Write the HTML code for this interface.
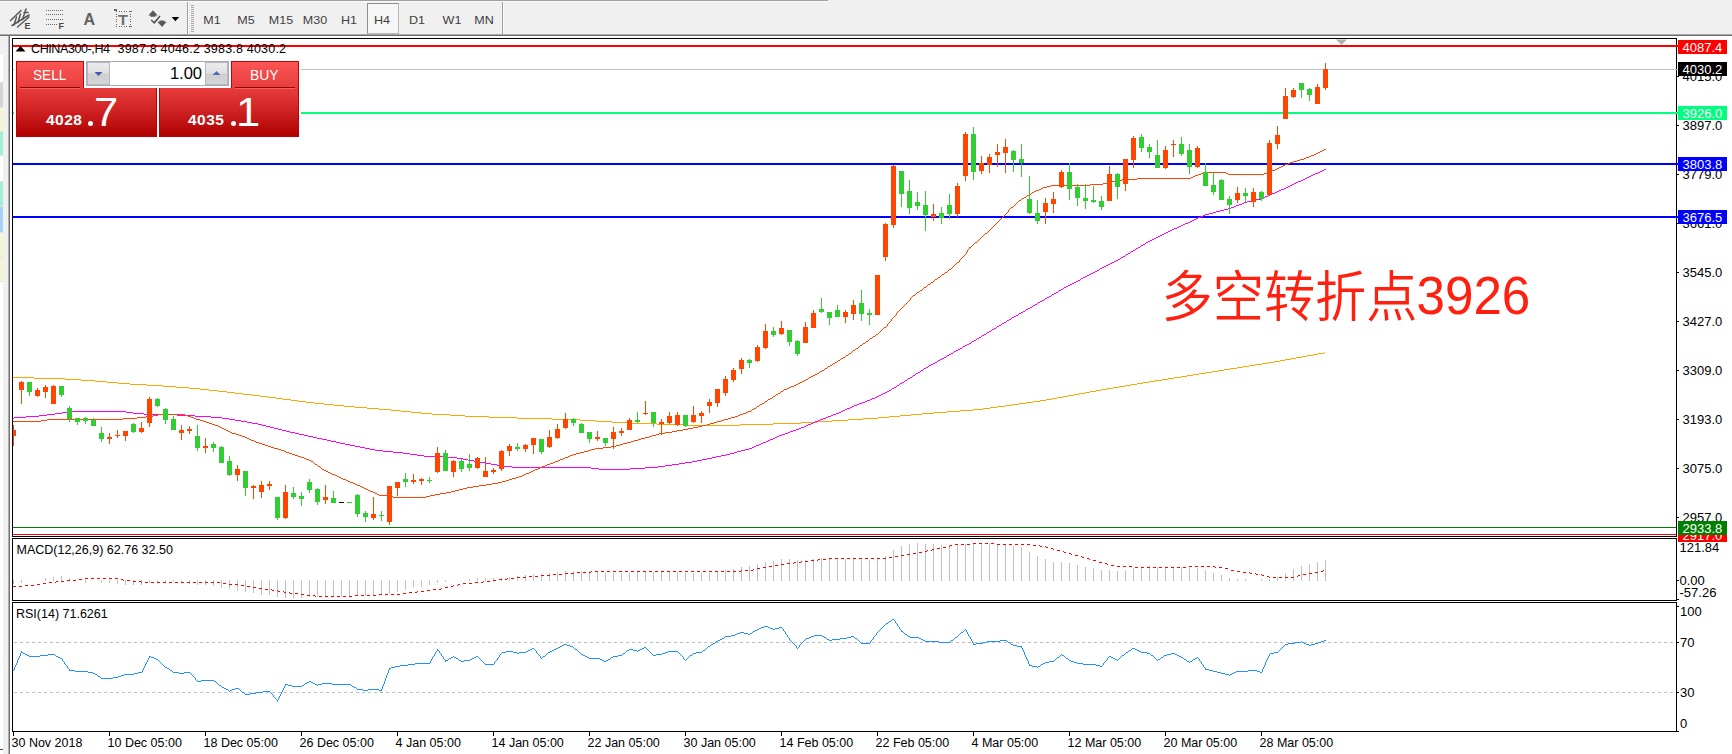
<!DOCTYPE html>
<html><head><meta charset="utf-8"><title>CHINA300-,H4</title>
<style>
html,body{margin:0;padding:0;background:#fff;}
body{width:1732px;height:754px;overflow:hidden;position:relative;font-family:"Liberation Sans","Noto Sans CJK SC",sans-serif;}
#root{position:absolute;left:0;top:0;width:1732px;height:754px;overflow:hidden;background:#fff;}
.t{position:absolute;white-space:pre;font-size:13px;line-height:14px;color:#000;}
.ax{position:absolute;left:1682.5px;white-space:pre;font-size:13px;line-height:14px;color:#000;}
.lab{position:absolute;left:1678px;width:49px;height:14px;white-space:pre;font-size:13px;line-height:16px;color:#fff;text-indent:4.5px;overflow:hidden;}
.tf{position:absolute;top:12px;font-size:12px;line-height:14px;color:#404040;white-space:pre;}
.tfc{position:absolute;top:12.5px;width:40px;text-align:center;font-size:10.9px;line-height:14px;color:#404040;white-space:pre;transform:scaleX(1.15);}
svg{position:absolute;left:0;top:0;}
</style></head><body><div id="root">

<div style="position:absolute;left:0;top:0;width:1732px;height:36px;background:#f0f0f0"></div>
<div style="position:absolute;left:0;top:0;width:828px;height:1px;background:#a0a0a0"></div>
<div style="position:absolute;left:0;top:1px;width:828px;height:1px;background:#fcfcfc"></div>
<div style="position:absolute;left:0;top:34px;width:1732px;height:1px;background:#a8a8a8"></div>
<div style="position:absolute;left:0;top:35px;width:1732px;height:1px;background:#6e6e6e"></div>
<div style="position:absolute;left:0;top:36px;width:10px;height:718px;background:#f0f0f0"></div>
<div style="position:absolute;left:0;top:55px;width:3px;height:699px;background:#fff"></div>
<div style="position:absolute;left:0;top:83px;width:3px;height:25px;background:#d4d4d4"></div>
<div style="position:absolute;left:0;top:108px;width:3px;height:24px;background:#f6f5d2"></div>
<div style="position:absolute;left:0;top:132px;width:3px;height:24px;background:#a2f0d4"></div>
<div style="position:absolute;left:0;top:182px;width:3px;height:25px;background:#a2f0d4"></div>
<div style="position:absolute;left:0;top:207px;width:3px;height:26px;background:#a4d2f8"></div>
<div style="position:absolute;left:0;top:233px;width:3px;height:48px;background:#f6f5d2"></div>
<div style="position:absolute;left:0;top:82px;width:3px;height:1px;background:#e0e0e0"></div>
<div style="position:absolute;left:0;top:107px;width:3px;height:1px;background:#e0e0e0"></div>
<div style="position:absolute;left:0;top:131px;width:3px;height:1px;background:#e0e0e0"></div>
<div style="position:absolute;left:0;top:155px;width:3px;height:1px;background:#e0e0e0"></div>
<div style="position:absolute;left:0;top:181px;width:3px;height:1px;background:#e0e0e0"></div>
<div style="position:absolute;left:0;top:206px;width:3px;height:1px;background:#e0e0e0"></div>
<div style="position:absolute;left:0;top:232px;width:3px;height:1px;background:#e0e0e0"></div>
<div style="position:absolute;left:0;top:257px;width:3px;height:1px;background:#e0e0e0"></div>
<div style="position:absolute;left:0;top:281px;width:3px;height:1px;background:#e0e0e0"></div>
<div style="position:absolute;left:0;top:749px;width:3px;height:1px;background:#505050"></div>
<div style="position:absolute;left:8px;top:36px;width:1px;height:718px;background:#b0b0b0"></div>
<div style="position:absolute;left:9px;top:35px;width:1px;height:719px;background:#707070"></div>
<div style="position:absolute;left:367px;top:3px;width:30px;height:29px;border:1px solid #b8b8b8;border-top-color:#909090;border-left-color:#909090;background:#f6f6f6;box-sizing:content-box"></div>
<div class="tfc" style="left:191.8px">M1</div>
<div class="tfc" style="left:226px">M5</div>
<div class="tfc" style="left:260.5px">M15</div>
<div class="tfc" style="left:294.5px">M30</div>
<div class="tfc" style="left:328.5px">H1</div>
<div class="tfc" style="left:362px">H4</div>
<div class="tfc" style="left:396.5px">D1</div>
<div class="tfc" style="left:432px">W1</div>
<div class="tfc" style="left:464px">MN</div>
<div class="tf" style="left:83.5px;top:11px;font-size:16px;line-height:18px;font-weight:bold;color:#606060">A</div>
<div class="tf" style="left:118.300px;top:10.5px;font-size:14.5px;line-height:18px;font-weight:bold;color:#707070;transform-origin:0 0;transform:scaleX(1.12)">T</div>
<div class="tf" style="left:24.5px;top:21px;font-size:9px;line-height:10px;font-weight:bold;color:#484848">E</div>
<div class="tf" style="left:58.5px;top:21px;font-size:9px;line-height:10px;font-weight:bold;color:#484848">F</div>
<svg width="1732" height="754" viewBox="0 0 1732 754">
<g stroke="#585858" stroke-width="1.5" fill="none" stroke-linecap="round">
<path d="M10.5 20.5 L21 10.5 M12 25.5 L29 15 M17.5 27 L29 17"/>
<path d="M14 25 L16.5 17 M18 22.5 L20.5 14 M22.5 19.5 L26 9 M24 12.5 L28 12.5"/>
</g>
<g shape-rendering="crispEdges" fill="#686868">
<rect x="46" y="10" width="1" height="1"/>
<rect x="48" y="10" width="1" height="1"/>
<rect x="50" y="10" width="1" height="1"/>
<rect x="52" y="10" width="1" height="1"/>
<rect x="54" y="10" width="1" height="1"/>
<rect x="56" y="10" width="1" height="1"/>
<rect x="58" y="10" width="1" height="1"/>
<rect x="60" y="10" width="1" height="1"/>
<rect x="62" y="10" width="1" height="1"/>
<rect x="46" y="14" width="1" height="1"/>
<rect x="48" y="14" width="1" height="1"/>
<rect x="50" y="14" width="1" height="1"/>
<rect x="52" y="14" width="1" height="1"/>
<rect x="54" y="14" width="1" height="1"/>
<rect x="56" y="14" width="1" height="1"/>
<rect x="58" y="14" width="1" height="1"/>
<rect x="60" y="14" width="1" height="1"/>
<rect x="62" y="14" width="1" height="1"/>
<rect x="46" y="19" width="1" height="1"/>
<rect x="48" y="19" width="1" height="1"/>
<rect x="50" y="19" width="1" height="1"/>
<rect x="52" y="19" width="1" height="1"/>
<rect x="54" y="19" width="1" height="1"/>
<rect x="56" y="19" width="1" height="1"/>
<rect x="58" y="19" width="1" height="1"/>
<rect x="60" y="19" width="1" height="1"/>
<rect x="62" y="19" width="1" height="1"/>
<rect x="46" y="24" width="1" height="1"/>
<rect x="48" y="24" width="1" height="1"/>
<rect x="50" y="24" width="1" height="1"/>
<rect x="52" y="24" width="1" height="1"/>
<rect x="54" y="24" width="1" height="1"/>
<rect x="56" y="24" width="1" height="1"/>
</g>
<g shape-rendering="crispEdges" fill="#686868">
<rect x="116.0" y="11" width="1" height="1"/><rect x="116.0" y="26" width="1" height="1"/>
<rect x="118.5" y="11" width="1" height="1"/><rect x="118.5" y="26" width="1" height="1"/>
<rect x="121.0" y="11" width="1" height="1"/><rect x="121.0" y="26" width="1" height="1"/>
<rect x="123.5" y="11" width="1" height="1"/><rect x="123.5" y="26" width="1" height="1"/>
<rect x="126.0" y="11" width="1" height="1"/><rect x="126.0" y="26" width="1" height="1"/>
<rect x="128.5" y="11" width="1" height="1"/><rect x="128.5" y="26" width="1" height="1"/>
<rect x="131.0" y="11" width="1" height="1"/><rect x="131.0" y="26" width="1" height="1"/>
<rect x="116" y="13.5" width="1" height="1"/><rect x="130" y="13.5" width="1" height="1"/>
<rect x="116" y="16.0" width="1" height="1"/><rect x="130" y="16.0" width="1" height="1"/>
<rect x="116" y="18.5" width="1" height="1"/><rect x="130" y="18.5" width="1" height="1"/>
<rect x="116" y="21.0" width="1" height="1"/><rect x="130" y="21.0" width="1" height="1"/>
<rect x="116" y="23.5" width="1" height="1"/><rect x="130" y="23.5" width="1" height="1"/>
<rect x="130" y="11" width="1" height="1"/><rect x="130" y="26" width="1" height="1"/>
<rect x="114" y="9" width="3" height="2"/>
</g>
<g fill="#585858"><path d="M153 10.300 L157.700 15.5 L155.5 15.5 L155.5 16.700 L150.5 16.700 L150.5 15.5 L148.300 15.5Z"/><path d="M162 27 L166.700 21.800 L164.5 21.800 L164.5 20.600 L159.5 20.600 L159.5 21.800 L157.300 21.800Z"/></g>
<path d="M171.600 17H179.200L175.400 21.200Z" fill="#000"/>
<path d="M151.200 20 L154.300 22.800 L160 16" stroke="#505050" stroke-width="1.5" fill="none"/>
<g shape-rendering="crispEdges"><rect x="187" y="2" width="1" height="32" fill="#a0a0a0"/><rect x="188" y="2" width="1" height="32" fill="#fafafa"/><rect x="502" y="2" width="1" height="32" fill="#a0a0a0"/><rect x="503" y="2" width="1" height="32" fill="#fafafa"/>
<rect x="191" y="5" width="3" height="1" fill="#a8a8a8"/>
<rect x="191" y="7" width="3" height="1" fill="#a8a8a8"/>
<rect x="191" y="9" width="3" height="1" fill="#a8a8a8"/>
<rect x="191" y="11" width="3" height="1" fill="#a8a8a8"/>
<rect x="191" y="13" width="3" height="1" fill="#a8a8a8"/>
<rect x="191" y="15" width="3" height="1" fill="#a8a8a8"/>
<rect x="191" y="17" width="3" height="1" fill="#a8a8a8"/>
<rect x="191" y="19" width="3" height="1" fill="#a8a8a8"/>
<rect x="191" y="21" width="3" height="1" fill="#a8a8a8"/>
<rect x="191" y="23" width="3" height="1" fill="#a8a8a8"/>
<rect x="191" y="25" width="3" height="1" fill="#a8a8a8"/>
<rect x="191" y="27" width="3" height="1" fill="#a8a8a8"/>
<rect x="191" y="29" width="3" height="1" fill="#a8a8a8"/>
<rect x="191" y="31" width="3" height="1" fill="#a8a8a8"/>
</g>
<g shape-rendering="crispEdges">
<rect x="10" y="36" width="1722" height="718" fill="#fff"/>
<rect x="13" y="45" width="1664" height="2" fill="#ff0000"/>
<rect x="13" y="69" width="1664" height="1" fill="#c0c0c0"/>
<rect x="13" y="112" width="1664" height="2" fill="#00ff7f"/>
<rect x="13" y="163" width="1664" height="2" fill="#0000ff"/>
<rect x="13" y="216" width="1664" height="2" fill="#0000ff"/>
<rect x="13" y="527" width="1664" height="1" fill="#008000"/>
<rect x="13" y="534" width="1664" height="1" fill="#ff0000"/>
</g>
<path d="M1336 39.5 L1347 39.5 L1341.5 45Z" fill="#b0b0b0"/>
<path d="M1324 352h1v1h-1zM1318 353h6v1h-6zM1313 354h5v1h-5zM1307 355h6v1h-6zM1302 356h5v1h-5zM1296 357h6v1h-6zM1291 358h5v1h-5zM1285 359h6v1h-6zM1280 360h5v1h-5zM1274 361h6v1h-6zM1268 362h6v1h-6zM1262 363h6v1h-6zM1255 364h7v1h-7zM1249 365h6v1h-6zM1243 366h6v1h-6zM1237 367h6v1h-6zM1230 368h7v1h-7zM1224 369h6v1h-6zM1218 370h6v1h-6zM1212 371h6v1h-6zM1206 372h6v1h-6zM1199 373h7v1h-7zM1193 374h6v1h-6zM1187 375h6v1h-6zM1181 376h6v1h-6zM13 377h21v1h-21zM1174 377h7v1h-7zM34 378h31v1h-31zM1168 378h6v1h-6zM65 379h16v1h-16zM1162 379h6v1h-6zM81 380h14v1h-14zM1155 380h7v1h-7zM95 381h12v1h-12zM1149 381h6v1h-6zM107 382h11v1h-11zM1143 382h6v1h-6zM118 383h12v1h-12zM1137 383h6v1h-6zM130 384h17v1h-17zM1131 384h6v1h-6zM147 385h16v1h-16zM1125 385h6v1h-6zM163 386h13v1h-13zM1119 386h6v1h-6zM176 387h13v1h-13zM1113 387h6v1h-6zM189 388h11v1h-11zM1107 388h6v1h-6zM200 389h9v1h-9zM1101 389h6v1h-6zM209 390h9v1h-9zM1096 390h5v1h-5zM218 391h9v1h-9zM1090 391h6v1h-6zM227 392h8v1h-8zM1085 392h5v1h-5zM235 393h8v1h-8zM1079 393h6v1h-6zM243 394h9v1h-9zM1074 394h5v1h-5zM252 395h8v1h-8zM1068 395h6v1h-6zM260 396h8v1h-8zM1063 396h5v1h-5zM268 397h8v1h-8zM1057 397h6v1h-6zM276 398h7v1h-7zM1052 398h5v1h-5zM283 399h8v1h-8zM1046 399h6v1h-6zM291 400h7v1h-7zM1040 400h6v1h-6zM298 401h8v1h-8zM1033 401h7v1h-7zM306 402h8v1h-8zM1026 402h7v1h-7zM314 403h10v1h-10zM1019 403h7v1h-7zM324 404h10v1h-10zM1012 404h7v1h-7zM334 405h10v1h-10zM1005 405h7v1h-7zM344 406h11v1h-11zM997 406h8v1h-8zM355 407h12v1h-12zM990 407h7v1h-7zM367 408h12v1h-12zM983 408h7v1h-7zM379 409h12v1h-12zM973 409h10v1h-10zM391 410h10v1h-10zM960 410h13v1h-13zM401 411h10v1h-10zM947 411h13v1h-13zM411 412h10v1h-10zM934 412h13v1h-13zM421 413h11v1h-11zM922 413h12v1h-12zM432 414h18v1h-18zM911 414h11v1h-11zM450 415h15v1h-15zM900 415h11v1h-11zM465 416h24v1h-24zM889 416h11v1h-11zM489 417h28v1h-28zM878 417h11v1h-11zM517 418h35v1h-35zM863 418h15v1h-15zM552 419h28v1h-28zM848 419h15v1h-15zM580 420h16v1h-16zM832 420h16v1h-16zM596 421h16v1h-16zM817 421h15v1h-15zM612 422h17v1h-17zM801 422h16v1h-16zM629 423h28v1h-28zM773 423h28v1h-28zM657 424h29v1h-29zM740 424h33v1h-33zM686 425h54v1h-54z" fill="#ffa500" shape-rendering="crispEdges"/>
<path d="M1324 169h2v1h-2zM1322 170h2v1h-2zM1320 171h2v1h-2zM1318 172h2v1h-2zM1315 173h3v1h-3zM1313 174h2v1h-2zM1311 175h2v1h-2zM1309 176h2v1h-2zM1307 177h2v1h-2zM1305 178h2v1h-2zM1303 179h2v1h-2zM1301 180h2v1h-2zM1298 181h3v1h-3zM1296 182h2v1h-2zM1294 183h2v1h-2zM1292 184h2v1h-2zM1290 185h2v1h-2zM1288 186h2v1h-2zM1286 187h2v1h-2zM1284 188h2v1h-2zM1281 189h3v1h-3zM1279 190h2v1h-2zM1277 191h2v1h-2zM1275 192h2v1h-2zM1272 193h3v1h-3zM1270 194h2v1h-2zM1268 195h2v1h-2zM1265 196h3v1h-3zM1263 197h2v1h-2zM1261 198h2v1h-2zM1256 199h5v1h-5zM1252 200h4v1h-4zM1247 201h5v1h-5zM1244 202h3v1h-3zM1242 203h2v1h-2zM1239 204h3v1h-3zM1236 205h3v1h-3zM1234 206h2v1h-2zM1231 207h3v1h-3zM1228 208h3v1h-3zM1224 209h4v1h-4zM1220 210h4v1h-4zM1216 211h4v1h-4zM1213 212h3v1h-3zM1209 213h4v1h-4zM1205 214h4v1h-4zM1203 215h2v1h-2zM1201 216h2v1h-2zM1198 217h3v1h-3zM1196 218h2v1h-2zM1194 219h2v1h-2zM1192 220h2v1h-2zM1190 221h2v1h-2zM1188 222h2v1h-2zM1185 223h3v1h-3zM1183 224h2v1h-2zM1181 225h2v1h-2zM1179 226h2v1h-2zM1177 227h2v1h-2zM1174 228h3v1h-3zM1172 229h2v1h-2zM1170 230h2v1h-2zM1168 231h2v1h-2zM1166 232h2v1h-2zM1164 233h2v1h-2zM1162 234h2v1h-2zM1160 235h2v1h-2zM1158 236h2v1h-2zM1156 237h2v1h-2zM1154 238h2v1h-2zM1152 239h2v1h-2zM1150 240h2v1h-2zM1148 241h2v1h-2zM1146 242h2v1h-2zM1145 243h1v1h-1zM1143 244h2v1h-2zM1141 245h2v1h-2zM1140 246h1v1h-1zM1138 247h2v1h-2zM1136 248h2v1h-2zM1135 249h1v1h-1zM1133 250h2v1h-2zM1131 251h2v1h-2zM1130 252h1v1h-1zM1128 253h2v1h-2zM1126 254h2v1h-2zM1125 255h1v1h-1zM1123 256h2v1h-2zM1121 257h2v1h-2zM1120 258h1v1h-1zM1118 259h2v1h-2zM1116 260h2v1h-2zM1114 261h2v1h-2zM1112 262h2v1h-2zM1110 263h2v1h-2zM1108 264h2v1h-2zM1106 265h2v1h-2zM1104 266h2v1h-2zM1102 267h2v1h-2zM1100 268h2v1h-2zM1099 269h1v1h-1zM1097 270h2v1h-2zM1095 271h2v1h-2zM1093 272h2v1h-2zM1091 273h2v1h-2zM1089 274h2v1h-2zM1087 275h2v1h-2zM1085 276h2v1h-2zM1083 277h2v1h-2zM1081 278h2v1h-2zM1080 279h1v1h-1zM1078 280h2v1h-2zM1076 281h2v1h-2zM1074 282h2v1h-2zM1072 283h2v1h-2zM1070 284h2v1h-2zM1068 285h2v1h-2zM1066 286h2v1h-2zM1064 287h2v1h-2zM1063 288h1v1h-1zM1061 289h2v1h-2zM1059 290h2v1h-2zM1058 291h1v1h-1zM1056 292h2v1h-2zM1054 293h2v1h-2zM1052 294h2v1h-2zM1051 295h1v1h-1zM1049 296h2v1h-2zM1047 297h2v1h-2zM1045 298h2v1h-2zM1044 299h1v1h-1zM1042 300h2v1h-2zM1040 301h2v1h-2zM1038 302h2v1h-2zM1037 303h1v1h-1zM1035 304h2v1h-2zM1033 305h2v1h-2zM1032 306h1v1h-1zM1030 307h2v1h-2zM1028 308h2v1h-2zM1026 309h2v1h-2zM1025 310h1v1h-1zM1023 311h2v1h-2zM1021 312h2v1h-2zM1019 313h2v1h-2zM1018 314h1v1h-1zM1016 315h2v1h-2zM1014 316h2v1h-2zM1012 317h2v1h-2zM1011 318h1v1h-1zM1009 319h2v1h-2zM1007 320h2v1h-2zM1006 321h1v1h-1zM1004 322h2v1h-2zM1002 323h2v1h-2zM1001 324h1v1h-1zM999 325h2v1h-2zM997 326h2v1h-2zM996 327h1v1h-1zM994 328h2v1h-2zM992 329h2v1h-2zM991 330h1v1h-1zM989 331h2v1h-2zM987 332h2v1h-2zM986 333h1v1h-1zM984 334h2v1h-2zM982 335h2v1h-2zM981 336h1v1h-1zM979 337h2v1h-2zM977 338h2v1h-2zM976 339h1v1h-1zM974 340h2v1h-2zM972 341h2v1h-2zM971 342h1v1h-1zM969 343h2v1h-2zM967 344h2v1h-2zM965 345h2v1h-2zM963 346h2v1h-2zM962 347h1v1h-1zM960 348h2v1h-2zM958 349h2v1h-2zM956 350h2v1h-2zM954 351h2v1h-2zM953 352h1v1h-1zM951 353h2v1h-2zM949 354h2v1h-2zM947 355h2v1h-2zM946 356h1v1h-1zM944 357h2v1h-2zM942 358h2v1h-2zM940 359h2v1h-2zM938 360h2v1h-2zM937 361h1v1h-1zM935 362h2v1h-2zM933 363h2v1h-2zM931 364h2v1h-2zM929 365h2v1h-2zM928 366h1v1h-1zM926 367h2v1h-2zM924 368h2v1h-2zM923 369h1v1h-1zM921 370h2v1h-2zM920 371h1v1h-1zM918 372h2v1h-2zM916 373h2v1h-2zM915 374h1v1h-1zM913 375h2v1h-2zM912 376h1v1h-1zM910 377h2v1h-2zM908 378h2v1h-2zM907 379h1v1h-1zM905 380h2v1h-2zM904 381h1v1h-1zM902 382h2v1h-2zM900 383h2v1h-2zM899 384h1v1h-1zM897 385h2v1h-2zM896 386h1v1h-1zM894 387h2v1h-2zM892 388h2v1h-2zM891 389h1v1h-1zM889 390h2v1h-2zM887 391h2v1h-2zM885 392h2v1h-2zM883 393h2v1h-2zM881 394h2v1h-2zM879 395h2v1h-2zM877 396h2v1h-2zM875 397h2v1h-2zM872 398h3v1h-3zM870 399h2v1h-2zM867 400h3v1h-3zM865 401h2v1h-2zM862 402h3v1h-3zM859 403h3v1h-3zM857 404h2v1h-2zM854 405h3v1h-3zM852 406h2v1h-2zM850 407h2v1h-2zM847 408h3v1h-3zM845 409h2v1h-2zM843 410h2v1h-2zM70 411h56v1h-56zM841 411h2v1h-2zM62 412h8v1h-8zM126 412h7v1h-7zM839 412h2v1h-2zM55 413h7v1h-7zM133 413h11v1h-11zM836 413h3v1h-3zM47 414h8v1h-8zM144 414h33v1h-33zM833 414h3v1h-3zM39 415h8v1h-8zM177 415h18v1h-18zM831 415h2v1h-2zM26 416h13v1h-13zM195 416h16v1h-16zM828 416h3v1h-3zM14 417h12v1h-12zM211 417h11v1h-11zM826 417h2v1h-2zM13 418h1v1h-1zM222 418h7v1h-7zM823 418h3v1h-3zM229 419h6v1h-6zM820 419h3v1h-3zM235 420h6v1h-6zM818 420h2v1h-2zM241 421h6v1h-6zM815 421h3v1h-3zM247 422h5v1h-5zM813 422h2v1h-2zM252 423h6v1h-6zM811 423h2v1h-2zM258 424h4v1h-4zM808 424h3v1h-3zM262 425h4v1h-4zM806 425h2v1h-2zM266 426h4v1h-4zM804 426h2v1h-2zM270 427h4v1h-4zM801 427h3v1h-3zM274 428h4v1h-4zM799 428h2v1h-2zM278 429h4v1h-4zM796 429h3v1h-3zM282 430h4v1h-4zM793 430h3v1h-3zM286 431h4v1h-4zM790 431h3v1h-3zM290 432h5v1h-5zM788 432h2v1h-2zM295 433h4v1h-4zM785 433h3v1h-3zM299 434h5v1h-5zM782 434h3v1h-3zM304 435h4v1h-4zM779 435h3v1h-3zM308 436h5v1h-5zM777 436h2v1h-2zM313 437h4v1h-4zM775 437h2v1h-2zM317 438h5v1h-5zM773 438h2v1h-2zM322 439h5v1h-5zM770 439h3v1h-3zM327 440h4v1h-4zM768 440h2v1h-2zM331 441h5v1h-5zM766 441h2v1h-2zM336 442h4v1h-4zM763 442h3v1h-3zM340 443h5v1h-5zM761 443h2v1h-2zM345 444h5v1h-5zM759 444h2v1h-2zM350 445h5v1h-5zM756 445h3v1h-3zM355 446h5v1h-5zM754 446h2v1h-2zM360 447h5v1h-5zM752 447h2v1h-2zM365 448h5v1h-5zM749 448h3v1h-3zM370 449h5v1h-5zM745 449h4v1h-4zM375 450h8v1h-8zM741 450h4v1h-4zM383 451h10v1h-10zM737 451h4v1h-4zM393 452h10v1h-10zM734 452h3v1h-3zM403 453h7v1h-7zM730 453h4v1h-4zM410 454h7v1h-7zM726 454h4v1h-4zM417 455h7v1h-7zM721 455h5v1h-5zM424 456h21v1h-21zM716 456h5v1h-5zM445 457h12v1h-12zM712 457h4v1h-4zM457 458h6v1h-6zM707 458h5v1h-5zM463 459h5v1h-5zM702 459h5v1h-5zM468 460h6v1h-6zM697 460h5v1h-5zM474 461h6v1h-6zM692 461h5v1h-5zM480 462h6v1h-6zM685 462h7v1h-7zM486 463h5v1h-5zM679 463h6v1h-6zM491 464h6v1h-6zM672 464h7v1h-7zM497 465h6v1h-6zM665 465h7v1h-7zM503 466h9v1h-9zM658 466h7v1h-7zM512 467h79v1h-79zM645 467h13v1h-13zM591 468h8v1h-8zM630 468h15v1h-15zM599 469h31v1h-31z" fill="#ff00ff" shape-rendering="crispEdges"/>
<path d="M1324 149h2v1h-2zM1322 150h2v1h-2zM1320 151h2v1h-2zM1318 152h2v1h-2zM1316 153h2v1h-2zM1314 154h2v1h-2zM1311 155h3v1h-3zM1309 156h2v1h-2zM1306 157h3v1h-3zM1304 158h2v1h-2zM1300 159h4v1h-4zM1297 160h3v1h-3zM1293 161h4v1h-4zM1290 162h3v1h-3zM1288 163h2v1h-2zM1285 164h3v1h-3zM1283 165h2v1h-2zM1281 166h2v1h-2zM1279 167h2v1h-2zM1277 168h2v1h-2zM1275 169h2v1h-2zM1272 170h3v1h-3zM1269 171h3v1h-3zM1206 172h20v1h-20zM1267 172h2v1h-2zM1201 173h5v1h-5zM1226 173h2v1h-2zM1264 173h3v1h-3zM1198 174h3v1h-3zM1228 174h36v1h-36zM1195 175h3v1h-3zM1193 176h2v1h-2zM1191 177h2v1h-2zM1137 178h54v1h-54zM1122 179h15v1h-15zM1120 180h2v1h-2zM1112 181h8v1h-8zM1107 182h5v1h-5zM1103 183h4v1h-4zM1090 184h13v1h-13zM1051 185h39v1h-39zM1047 186h4v1h-4zM1043 187h4v1h-4zM1041 188h2v1h-2zM1039 189h2v1h-2zM1036 190h3v1h-3zM1034 191h2v1h-2zM1032 192h2v1h-2zM1031 193h1v1h-1zM1029 194h2v1h-2zM1027 195h2v1h-2zM1026 196h1v1h-1zM1024 197h2v1h-2zM1022 198h2v1h-2zM1021 199h1v1h-1zM1019 200h2v1h-2zM1018 201h1v1h-1zM1017 202h1v1h-1zM1016 203h1v1h-1zM1015 204h1v1h-1zM1014 205h1v1h-1zM1013 206h1v1h-1zM1011 207h2v1h-2zM1010 208h1v1h-1zM1009 209h1v1h-1zM1008 210h1v1h-1zM1008 211h1v1h-1zM1007 212h1v1h-1zM1006 213h1v1h-1zM1005 214h1v1h-1zM1004 215h1v1h-1zM1003 216h1v1h-1zM1002 217h1v1h-1zM1001 218h1v1h-1zM1000 219h1v1h-1zM999 220h1v1h-1zM998 221h1v1h-1zM997 222h1v1h-1zM996 223h1v1h-1zM995 224h1v1h-1zM994 225h1v1h-1zM993 226h1v1h-1zM992 227h1v1h-1zM991 228h1v1h-1zM990 229h1v1h-1zM989 230h1v1h-1zM988 231h1v1h-1zM987 232h1v1h-1zM985 233h2v1h-2zM984 234h1v1h-1zM983 235h1v1h-1zM982 236h1v1h-1zM981 237h1v1h-1zM980 238h1v1h-1zM979 239h1v1h-1zM978 240h1v1h-1zM977 241h1v1h-1zM975 242h2v1h-2zM974 243h1v1h-1zM973 244h1v1h-1zM972 245h1v1h-1zM971 246h1v1h-1zM969 247h2v1h-2zM969 248h1v1h-1zM968 249h1v1h-1zM967 250h1v1h-1zM967 251h1v1h-1zM966 252h1v1h-1zM966 253h1v1h-1zM965 254h1v1h-1zM964 255h1v1h-1zM963 256h1v1h-1zM962 257h1v1h-1zM961 258h1v1h-1zM960 259h1v1h-1zM959 260h1v1h-1zM959 261h1v1h-1zM957 262h2v1h-2zM956 263h1v1h-1zM955 264h1v1h-1zM954 265h1v1h-1zM953 266h1v1h-1zM952 267h1v1h-1zM951 268h1v1h-1zM949 269h2v1h-2zM948 270h1v1h-1zM947 271h1v1h-1zM945 272h2v1h-2zM944 273h1v1h-1zM942 274h2v1h-2zM941 275h1v1h-1zM940 276h1v1h-1zM938 277h2v1h-2zM937 278h1v1h-1zM935 279h2v1h-2zM934 280h1v1h-1zM933 281h1v1h-1zM931 282h2v1h-2zM930 283h1v1h-1zM928 284h2v1h-2zM927 285h1v1h-1zM926 286h1v1h-1zM924 287h2v1h-2zM923 288h1v1h-1zM922 289h1v1h-1zM920 290h2v1h-2zM919 291h1v1h-1zM917 292h2v1h-2zM916 293h1v1h-1zM915 294h1v1h-1zM913 295h2v1h-2zM912 296h1v1h-1zM911 297h1v1h-1zM910 298h1v1h-1zM910 299h1v1h-1zM909 300h1v1h-1zM908 301h1v1h-1zM907 302h1v1h-1zM906 303h1v1h-1zM905 304h1v1h-1zM904 305h1v1h-1zM903 306h1v1h-1zM902 307h1v1h-1zM901 308h1v1h-1zM900 309h1v1h-1zM899 310h1v1h-1zM898 311h1v1h-1zM897 312h1v1h-1zM896 313h1v1h-1zM896 314h1v1h-1zM895 315h1v1h-1zM894 316h1v1h-1zM893 317h1v1h-1zM892 318h1v1h-1zM891 319h1v1h-1zM891 320h1v1h-1zM890 321h1v1h-1zM889 322h1v1h-1zM888 323h1v1h-1zM887 324h1v1h-1zM887 325h1v1h-1zM886 326h1v1h-1zM884 327h2v1h-2zM883 328h1v1h-1zM882 329h1v1h-1zM881 330h1v1h-1zM880 331h1v1h-1zM879 332h1v1h-1zM878 333h1v1h-1zM876 334h2v1h-2zM875 335h1v1h-1zM873 336h2v1h-2zM872 337h1v1h-1zM870 338h2v1h-2zM869 339h1v1h-1zM868 340h1v1h-1zM866 341h2v1h-2zM865 342h1v1h-1zM863 343h2v1h-2zM862 344h1v1h-1zM860 345h2v1h-2zM859 346h1v1h-1zM858 347h1v1h-1zM856 348h2v1h-2zM855 349h1v1h-1zM853 350h2v1h-2zM852 351h1v1h-1zM851 352h1v1h-1zM849 353h2v1h-2zM848 354h1v1h-1zM846 355h2v1h-2zM845 356h1v1h-1zM843 357h2v1h-2zM841 358h2v1h-2zM840 359h1v1h-1zM838 360h2v1h-2zM837 361h1v1h-1zM835 362h2v1h-2zM833 363h2v1h-2zM832 364h1v1h-1zM830 365h2v1h-2zM828 366h2v1h-2zM827 367h1v1h-1zM825 368h2v1h-2zM824 369h1v1h-1zM822 370h2v1h-2zM820 371h2v1h-2zM819 372h1v1h-1zM817 373h2v1h-2zM815 374h2v1h-2zM813 375h2v1h-2zM811 376h2v1h-2zM809 377h2v1h-2zM808 378h1v1h-1zM806 379h2v1h-2zM804 380h2v1h-2zM802 381h2v1h-2zM800 382h2v1h-2zM798 383h2v1h-2zM796 384h2v1h-2zM794 385h2v1h-2zM791 386h3v1h-3zM789 387h2v1h-2zM787 388h2v1h-2zM784 389h3v1h-3zM783 390h1v1h-1zM781 391h2v1h-2zM780 392h1v1h-1zM778 393h2v1h-2zM776 394h2v1h-2zM775 395h1v1h-1zM773 396h2v1h-2zM772 397h1v1h-1zM770 398h2v1h-2zM768 399h2v1h-2zM767 400h1v1h-1zM765 401h2v1h-2zM764 402h1v1h-1zM762 403h2v1h-2zM760 404h2v1h-2zM759 405h1v1h-1zM757 406h2v1h-2zM756 407h1v1h-1zM754 408h2v1h-2zM752 409h2v1h-2zM751 410h1v1h-1zM748 411h3v1h-3zM746 412h2v1h-2zM743 413h3v1h-3zM158 414h27v1h-27zM740 414h3v1h-3zM153 415h5v1h-5zM185 415h3v1h-3zM738 415h2v1h-2zM146 416h7v1h-7zM188 416h3v1h-3zM735 416h3v1h-3zM137 417h9v1h-9zM191 417h3v1h-3zM731 417h4v1h-4zM123 418h14v1h-14zM194 418h2v1h-2zM728 418h3v1h-3zM47 419h76v1h-76zM196 419h4v1h-4zM724 419h4v1h-4zM41 420h6v1h-6zM200 420h3v1h-3zM721 420h3v1h-3zM13 421h28v1h-28zM203 421h3v1h-3zM717 421h4v1h-4zM206 422h3v1h-3zM714 422h3v1h-3zM209 423h3v1h-3zM710 423h4v1h-4zM212 424h3v1h-3zM707 424h3v1h-3zM215 425h3v1h-3zM702 425h5v1h-5zM218 426h2v1h-2zM698 426h4v1h-4zM220 427h2v1h-2zM693 427h5v1h-5zM222 428h2v1h-2zM688 428h5v1h-5zM224 429h2v1h-2zM683 429h5v1h-5zM226 430h2v1h-2zM677 430h6v1h-6zM228 431h2v1h-2zM672 431h5v1h-5zM230 432h2v1h-2zM665 432h7v1h-7zM232 433h4v1h-4zM659 433h6v1h-6zM236 434h3v1h-3zM656 434h3v1h-3zM239 435h3v1h-3zM652 435h4v1h-4zM242 436h3v1h-3zM649 436h3v1h-3zM245 437h2v1h-2zM645 437h4v1h-4zM247 438h2v1h-2zM641 438h4v1h-4zM249 439h2v1h-2zM638 439h3v1h-3zM251 440h3v1h-3zM634 440h4v1h-4zM254 441h2v1h-2zM631 441h3v1h-3zM256 442h3v1h-3zM627 442h4v1h-4zM259 443h3v1h-3zM623 443h4v1h-4zM262 444h3v1h-3zM620 444h3v1h-3zM265 445h3v1h-3zM616 445h4v1h-4zM268 446h3v1h-3zM611 446h5v1h-5zM271 447h3v1h-3zM603 447h8v1h-8zM274 448h4v1h-4zM595 448h8v1h-8zM278 449h3v1h-3zM591 449h4v1h-4zM281 450h3v1h-3zM588 450h3v1h-3zM284 451h2v1h-2zM584 451h4v1h-4zM286 452h3v1h-3zM580 452h4v1h-4zM289 453h3v1h-3zM576 453h4v1h-4zM292 454h3v1h-3zM573 454h3v1h-3zM295 455h3v1h-3zM570 455h3v1h-3zM298 456h3v1h-3zM568 456h2v1h-2zM301 457h3v1h-3zM565 457h3v1h-3zM304 458h2v1h-2zM563 458h2v1h-2zM306 459h3v1h-3zM560 459h3v1h-3zM309 460h2v1h-2zM558 460h2v1h-2zM311 461h2v1h-2zM555 461h3v1h-3zM313 462h1v1h-1zM553 462h2v1h-2zM314 463h1v1h-1zM550 463h3v1h-3zM315 464h2v1h-2zM547 464h3v1h-3zM317 465h1v1h-1zM545 465h2v1h-2zM318 466h2v1h-2zM542 466h3v1h-3zM320 467h1v1h-1zM540 467h2v1h-2zM321 468h1v1h-1zM538 468h2v1h-2zM322 469h2v1h-2zM535 469h3v1h-3zM324 470h2v1h-2zM533 470h2v1h-2zM326 471h2v1h-2zM531 471h2v1h-2zM328 472h2v1h-2zM529 472h2v1h-2zM330 473h2v1h-2zM526 473h3v1h-3zM332 474h3v1h-3zM524 474h2v1h-2zM335 475h2v1h-2zM522 475h2v1h-2zM337 476h2v1h-2zM519 476h3v1h-3zM339 477h2v1h-2zM516 477h3v1h-3zM341 478h2v1h-2zM512 478h4v1h-4zM343 479h3v1h-3zM509 479h3v1h-3zM346 480h2v1h-2zM506 480h3v1h-3zM348 481h2v1h-2zM502 481h4v1h-4zM350 482h3v1h-3zM498 482h4v1h-4zM353 483h2v1h-2zM492 483h6v1h-6zM355 484h2v1h-2zM486 484h6v1h-6zM357 485h3v1h-3zM479 485h7v1h-7zM360 486h2v1h-2zM473 486h6v1h-6zM362 487h2v1h-2zM467 487h6v1h-6zM364 488h2v1h-2zM463 488h4v1h-4zM366 489h2v1h-2zM459 489h4v1h-4zM368 490h2v1h-2zM455 490h4v1h-4zM370 491h3v1h-3zM451 491h4v1h-4zM373 492h2v1h-2zM446 492h5v1h-5zM375 493h2v1h-2zM440 493h6v1h-6zM377 494h2v1h-2zM435 494h5v1h-5zM379 495h10v1h-10zM430 495h5v1h-5zM389 496h4v1h-4zM426 496h4v1h-4zM393 497h33v1h-33z" fill="#ff4500" shape-rendering="crispEdges"/>
<g shape-rendering="crispEdges">
<rect x="13" y="425" width="1" height="21" fill="#ff4500"/>
<rect x="13" y="430" width="3" height="6" fill="#ff4500"/>
<rect x="21" y="381" width="1" height="23" fill="#ff4500"/>
<rect x="19" y="382" width="5" height="8" fill="#ff4500"/>
<rect x="29" y="382" width="1" height="14" fill="#32cd32"/>
<rect x="27" y="382" width="5" height="10" fill="#32cd32"/>
<rect x="37" y="388" width="1" height="9" fill="#ff4500"/>
<rect x="35" y="390" width="5" height="6" fill="#ff4500"/>
<rect x="45" y="385" width="1" height="13" fill="#ff4500"/>
<rect x="43" y="387" width="5" height="5" fill="#ff4500"/>
<rect x="53" y="385" width="1" height="19" fill="#ff4500"/>
<rect x="51" y="386" width="5" height="18" fill="#ff4500"/>
<rect x="61" y="386" width="1" height="11" fill="#32cd32"/>
<rect x="59" y="386" width="5" height="9" fill="#32cd32"/>
<rect x="69" y="406" width="1" height="16" fill="#32cd32"/>
<rect x="67" y="408" width="5" height="11" fill="#32cd32"/>
<rect x="77" y="418" width="1" height="7" fill="#32cd32"/>
<rect x="75" y="418" width="5" height="4" fill="#32cd32"/>
<rect x="85" y="417" width="1" height="7" fill="#32cd32"/>
<rect x="83" y="418" width="5" height="3" fill="#32cd32"/>
<rect x="93" y="418" width="1" height="8" fill="#32cd32"/>
<rect x="91" y="420" width="5" height="6" fill="#32cd32"/>
<rect x="101" y="427" width="1" height="15" fill="#32cd32"/>
<rect x="99" y="433" width="5" height="6" fill="#32cd32"/>
<rect x="109" y="433" width="1" height="11" fill="#ff4500"/>
<rect x="107" y="437" width="5" height="2" fill="#ff4500"/>
<rect x="117" y="430" width="1" height="8" fill="#ff4500"/>
<rect x="115" y="435" width="5" height="1" fill="#ff4500"/>
<rect x="125" y="431" width="1" height="10" fill="#ff4500"/>
<rect x="123" y="431" width="5" height="5" fill="#ff4500"/>
<rect x="133" y="423" width="1" height="10" fill="#32cd32"/>
<rect x="131" y="424" width="5" height="8" fill="#32cd32"/>
<rect x="141" y="422" width="1" height="11" fill="#ff4500"/>
<rect x="139" y="428" width="5" height="4" fill="#ff4500"/>
<rect x="149" y="397" width="1" height="30" fill="#ff4500"/>
<rect x="147" y="399" width="5" height="24" fill="#ff4500"/>
<rect x="157" y="398" width="1" height="9" fill="#32cd32"/>
<rect x="155" y="399" width="5" height="7" fill="#32cd32"/>
<rect x="165" y="408" width="1" height="16" fill="#32cd32"/>
<rect x="163" y="409" width="5" height="11" fill="#32cd32"/>
<rect x="173" y="416" width="1" height="14" fill="#32cd32"/>
<rect x="171" y="419" width="5" height="11" fill="#32cd32"/>
<rect x="181" y="425" width="1" height="15" fill="#ff4500"/>
<rect x="179" y="430" width="5" height="3" fill="#ff4500"/>
<rect x="189" y="426" width="1" height="8" fill="#ff4500"/>
<rect x="187" y="429" width="5" height="2" fill="#ff4500"/>
<rect x="197" y="425" width="1" height="26" fill="#32cd32"/>
<rect x="195" y="436" width="5" height="12" fill="#32cd32"/>
<rect x="205" y="438" width="1" height="15" fill="#ff4500"/>
<rect x="203" y="446" width="5" height="2" fill="#ff4500"/>
<rect x="213" y="442" width="1" height="10" fill="#32cd32"/>
<rect x="211" y="444" width="5" height="4" fill="#32cd32"/>
<rect x="221" y="446" width="1" height="17" fill="#32cd32"/>
<rect x="219" y="447" width="5" height="16" fill="#32cd32"/>
<rect x="229" y="456" width="1" height="20" fill="#32cd32"/>
<rect x="227" y="461" width="5" height="14" fill="#32cd32"/>
<rect x="237" y="465" width="1" height="16" fill="#ff4500"/>
<rect x="235" y="469" width="5" height="6" fill="#ff4500"/>
<rect x="245" y="471" width="1" height="25" fill="#32cd32"/>
<rect x="243" y="471" width="5" height="17" fill="#32cd32"/>
<rect x="253" y="485" width="1" height="14" fill="#ff4500"/>
<rect x="251" y="486" width="5" height="2" fill="#ff4500"/>
<rect x="261" y="481" width="1" height="17" fill="#ff4500"/>
<rect x="259" y="485" width="5" height="7" fill="#ff4500"/>
<rect x="269" y="481" width="1" height="9" fill="#ff4500"/>
<rect x="267" y="484" width="5" height="2" fill="#ff4500"/>
<rect x="277" y="497" width="1" height="23" fill="#32cd32"/>
<rect x="275" y="497" width="5" height="21" fill="#32cd32"/>
<rect x="285" y="485" width="1" height="34" fill="#ff4500"/>
<rect x="283" y="492" width="5" height="26" fill="#ff4500"/>
<rect x="293" y="487" width="1" height="12" fill="#32cd32"/>
<rect x="291" y="493" width="5" height="4" fill="#32cd32"/>
<rect x="301" y="492" width="1" height="14" fill="#32cd32"/>
<rect x="299" y="496" width="5" height="3" fill="#32cd32"/>
<rect x="309" y="479" width="1" height="14" fill="#32cd32"/>
<rect x="307" y="482" width="5" height="8" fill="#32cd32"/>
<rect x="317" y="488" width="1" height="17" fill="#32cd32"/>
<rect x="315" y="489" width="5" height="13" fill="#32cd32"/>
<rect x="325" y="485" width="1" height="19" fill="#ff4500"/>
<rect x="323" y="497" width="5" height="3" fill="#ff4500"/>
<rect x="333" y="491" width="1" height="12" fill="#32cd32"/>
<rect x="331" y="498" width="5" height="5" fill="#32cd32"/>
<rect x="341" y="502" width="1" height="1" fill="#000000"/>
<rect x="339" y="502" width="5" height="1" fill="#000000"/>
<rect x="349" y="502" width="1" height="1" fill="#32cd32"/>
<rect x="347" y="502" width="5" height="1" fill="#32cd32"/>
<rect x="357" y="494" width="1" height="23" fill="#32cd32"/>
<rect x="355" y="495" width="5" height="19" fill="#32cd32"/>
<rect x="365" y="511" width="1" height="11" fill="#32cd32"/>
<rect x="363" y="513" width="5" height="4" fill="#32cd32"/>
<rect x="373" y="497" width="1" height="23" fill="#ff4500"/>
<rect x="371" y="514" width="5" height="4" fill="#ff4500"/>
<rect x="381" y="511" width="1" height="10" fill="#32cd32"/>
<rect x="379" y="515" width="5" height="1" fill="#32cd32"/>
<rect x="389" y="486" width="1" height="39" fill="#ff4500"/>
<rect x="387" y="486" width="5" height="36" fill="#ff4500"/>
<rect x="397" y="482" width="1" height="14" fill="#ff4500"/>
<rect x="395" y="482" width="5" height="6" fill="#ff4500"/>
<rect x="405" y="473" width="1" height="14" fill="#32cd32"/>
<rect x="403" y="479" width="5" height="3" fill="#32cd32"/>
<rect x="413" y="474" width="1" height="10" fill="#ff4500"/>
<rect x="411" y="480" width="5" height="2" fill="#ff4500"/>
<rect x="421" y="478" width="1" height="7" fill="#ff4500"/>
<rect x="419" y="479" width="5" height="2" fill="#ff4500"/>
<rect x="429" y="477" width="1" height="6" fill="#32cd32"/>
<rect x="427" y="480" width="5" height="1" fill="#32cd32"/>
<rect x="437" y="447" width="1" height="26" fill="#ff4500"/>
<rect x="435" y="453" width="5" height="19" fill="#ff4500"/>
<rect x="445" y="450" width="1" height="21" fill="#32cd32"/>
<rect x="443" y="453" width="5" height="18" fill="#32cd32"/>
<rect x="453" y="460" width="1" height="17" fill="#ff4500"/>
<rect x="451" y="461" width="5" height="11" fill="#ff4500"/>
<rect x="461" y="459" width="1" height="13" fill="#32cd32"/>
<rect x="459" y="461" width="5" height="8" fill="#32cd32"/>
<rect x="469" y="454" width="1" height="17" fill="#32cd32"/>
<rect x="467" y="464" width="5" height="4" fill="#32cd32"/>
<rect x="477" y="457" width="1" height="12" fill="#ff4500"/>
<rect x="475" y="458" width="5" height="10" fill="#ff4500"/>
<rect x="485" y="457" width="1" height="20" fill="#ff4500"/>
<rect x="483" y="471" width="5" height="6" fill="#ff4500"/>
<rect x="493" y="468" width="1" height="6" fill="#ff4500"/>
<rect x="491" y="470" width="5" height="2" fill="#ff4500"/>
<rect x="501" y="450" width="1" height="21" fill="#ff4500"/>
<rect x="499" y="451" width="5" height="18" fill="#ff4500"/>
<rect x="509" y="444" width="1" height="12" fill="#ff4500"/>
<rect x="507" y="446" width="5" height="5" fill="#ff4500"/>
<rect x="517" y="443" width="1" height="8" fill="#32cd32"/>
<rect x="515" y="447" width="5" height="2" fill="#32cd32"/>
<rect x="525" y="444" width="1" height="8" fill="#ff4500"/>
<rect x="523" y="445" width="5" height="4" fill="#ff4500"/>
<rect x="533" y="438" width="1" height="16" fill="#ff4500"/>
<rect x="531" y="438" width="5" height="7" fill="#ff4500"/>
<rect x="541" y="439" width="1" height="15" fill="#32cd32"/>
<rect x="539" y="439" width="5" height="13" fill="#32cd32"/>
<rect x="549" y="430" width="1" height="18" fill="#ff4500"/>
<rect x="547" y="437" width="5" height="10" fill="#ff4500"/>
<rect x="557" y="424" width="1" height="15" fill="#ff4500"/>
<rect x="555" y="429" width="5" height="9" fill="#ff4500"/>
<rect x="565" y="413" width="1" height="16" fill="#ff4500"/>
<rect x="563" y="419" width="5" height="9" fill="#ff4500"/>
<rect x="573" y="418" width="1" height="8" fill="#32cd32"/>
<rect x="571" y="419" width="5" height="4" fill="#32cd32"/>
<rect x="581" y="423" width="1" height="10" fill="#32cd32"/>
<rect x="579" y="424" width="5" height="9" fill="#32cd32"/>
<rect x="589" y="432" width="1" height="11" fill="#32cd32"/>
<rect x="587" y="432" width="5" height="7" fill="#32cd32"/>
<rect x="597" y="431" width="1" height="10" fill="#ff4500"/>
<rect x="595" y="437" width="5" height="2" fill="#ff4500"/>
<rect x="605" y="438" width="1" height="8" fill="#32cd32"/>
<rect x="603" y="438" width="5" height="5" fill="#32cd32"/>
<rect x="613" y="427" width="1" height="22" fill="#ff4500"/>
<rect x="611" y="432" width="5" height="7" fill="#ff4500"/>
<rect x="621" y="428" width="1" height="8" fill="#ff4500"/>
<rect x="619" y="431" width="5" height="2" fill="#ff4500"/>
<rect x="629" y="418" width="1" height="12" fill="#ff4500"/>
<rect x="627" y="420" width="5" height="10" fill="#ff4500"/>
<rect x="637" y="412" width="1" height="11" fill="#32cd32"/>
<rect x="635" y="420" width="5" height="2" fill="#32cd32"/>
<rect x="645" y="401" width="1" height="14" fill="#ff4500"/>
<rect x="643" y="413" width="5" height="1" fill="#ff4500"/>
<rect x="653" y="412" width="1" height="15" fill="#32cd32"/>
<rect x="651" y="412" width="5" height="11" fill="#32cd32"/>
<rect x="661" y="419" width="1" height="16" fill="#ff4500"/>
<rect x="659" y="422" width="5" height="2" fill="#ff4500"/>
<rect x="669" y="412" width="1" height="12" fill="#ff4500"/>
<rect x="667" y="416" width="5" height="7" fill="#ff4500"/>
<rect x="677" y="412" width="1" height="14" fill="#ff4500"/>
<rect x="675" y="415" width="5" height="10" fill="#ff4500"/>
<rect x="685" y="415" width="1" height="12" fill="#32cd32"/>
<rect x="683" y="415" width="5" height="11" fill="#32cd32"/>
<rect x="693" y="406" width="1" height="17" fill="#ff4500"/>
<rect x="691" y="415" width="5" height="7" fill="#ff4500"/>
<rect x="701" y="411" width="1" height="12" fill="#ff4500"/>
<rect x="699" y="413" width="5" height="3" fill="#ff4500"/>
<rect x="709" y="399" width="1" height="14" fill="#ff4500"/>
<rect x="707" y="402" width="5" height="4" fill="#ff4500"/>
<rect x="717" y="389" width="1" height="18" fill="#ff4500"/>
<rect x="715" y="389" width="5" height="14" fill="#ff4500"/>
<rect x="725" y="376" width="1" height="20" fill="#ff4500"/>
<rect x="723" y="379" width="5" height="14" fill="#ff4500"/>
<rect x="733" y="368" width="1" height="14" fill="#ff4500"/>
<rect x="731" y="370" width="5" height="10" fill="#ff4500"/>
<rect x="741" y="358" width="1" height="16" fill="#ff4500"/>
<rect x="739" y="360" width="5" height="9" fill="#ff4500"/>
<rect x="749" y="359" width="1" height="9" fill="#32cd32"/>
<rect x="747" y="360" width="5" height="3" fill="#32cd32"/>
<rect x="757" y="345" width="1" height="17" fill="#ff4500"/>
<rect x="755" y="347" width="5" height="14" fill="#ff4500"/>
<rect x="765" y="324" width="1" height="25" fill="#ff4500"/>
<rect x="763" y="331" width="5" height="17" fill="#ff4500"/>
<rect x="773" y="327" width="1" height="10" fill="#32cd32"/>
<rect x="771" y="331" width="5" height="4" fill="#32cd32"/>
<rect x="781" y="321" width="1" height="14" fill="#ff4500"/>
<rect x="779" y="328" width="5" height="6" fill="#ff4500"/>
<rect x="789" y="330" width="1" height="16" fill="#32cd32"/>
<rect x="787" y="330" width="5" height="12" fill="#32cd32"/>
<rect x="797" y="340" width="1" height="16" fill="#32cd32"/>
<rect x="795" y="341" width="5" height="13" fill="#32cd32"/>
<rect x="805" y="322" width="1" height="21" fill="#ff4500"/>
<rect x="803" y="327" width="5" height="16" fill="#ff4500"/>
<rect x="813" y="310" width="1" height="18" fill="#ff4500"/>
<rect x="811" y="313" width="5" height="15" fill="#ff4500"/>
<rect x="821" y="298" width="1" height="15" fill="#32cd32"/>
<rect x="819" y="309" width="5" height="3" fill="#32cd32"/>
<rect x="829" y="312" width="1" height="13" fill="#32cd32"/>
<rect x="827" y="312" width="5" height="6" fill="#32cd32"/>
<rect x="837" y="305" width="1" height="12" fill="#32cd32"/>
<rect x="835" y="310" width="5" height="7" fill="#32cd32"/>
<rect x="845" y="310" width="1" height="13" fill="#ff4500"/>
<rect x="843" y="312" width="5" height="5" fill="#ff4500"/>
<rect x="853" y="300" width="1" height="20" fill="#ff4500"/>
<rect x="851" y="305" width="5" height="9" fill="#ff4500"/>
<rect x="861" y="290" width="1" height="31" fill="#32cd32"/>
<rect x="859" y="303" width="5" height="11" fill="#32cd32"/>
<rect x="869" y="309" width="1" height="16" fill="#32cd32"/>
<rect x="867" y="313" width="5" height="2" fill="#32cd32"/>
<rect x="877" y="275" width="1" height="40" fill="#ff4500"/>
<rect x="875" y="275" width="5" height="40" fill="#ff4500"/>
<rect x="885" y="223" width="1" height="38" fill="#ff4500"/>
<rect x="883" y="224" width="5" height="33" fill="#ff4500"/>
<rect x="893" y="165" width="1" height="63" fill="#ff4500"/>
<rect x="891" y="166" width="5" height="59" fill="#ff4500"/>
<rect x="901" y="171" width="1" height="36" fill="#32cd32"/>
<rect x="899" y="171" width="5" height="23" fill="#32cd32"/>
<rect x="909" y="180" width="1" height="34" fill="#32cd32"/>
<rect x="907" y="191" width="5" height="17" fill="#32cd32"/>
<rect x="917" y="192" width="1" height="18" fill="#32cd32"/>
<rect x="915" y="202" width="5" height="4" fill="#32cd32"/>
<rect x="925" y="191" width="1" height="40" fill="#32cd32"/>
<rect x="923" y="205" width="5" height="10" fill="#32cd32"/>
<rect x="933" y="204" width="1" height="17" fill="#ff4500"/>
<rect x="931" y="214" width="5" height="3" fill="#ff4500"/>
<rect x="941" y="207" width="1" height="17" fill="#32cd32"/>
<rect x="939" y="213" width="5" height="5" fill="#32cd32"/>
<rect x="949" y="194" width="1" height="25" fill="#32cd32"/>
<rect x="947" y="205" width="5" height="9" fill="#32cd32"/>
<rect x="957" y="183" width="1" height="34" fill="#ff4500"/>
<rect x="955" y="186" width="5" height="28" fill="#ff4500"/>
<rect x="965" y="132" width="1" height="49" fill="#ff4500"/>
<rect x="963" y="134" width="5" height="42" fill="#ff4500"/>
<rect x="973" y="127" width="1" height="53" fill="#32cd32"/>
<rect x="971" y="134" width="5" height="38" fill="#32cd32"/>
<rect x="981" y="156" width="1" height="18" fill="#ff4500"/>
<rect x="979" y="163" width="5" height="8" fill="#ff4500"/>
<rect x="989" y="154" width="1" height="19" fill="#ff4500"/>
<rect x="987" y="157" width="5" height="8" fill="#ff4500"/>
<rect x="997" y="144" width="1" height="23" fill="#ff4500"/>
<rect x="995" y="152" width="5" height="3" fill="#ff4500"/>
<rect x="1005" y="139" width="1" height="34" fill="#ff4500"/>
<rect x="1003" y="147" width="5" height="6" fill="#ff4500"/>
<rect x="1013" y="150" width="1" height="22" fill="#32cd32"/>
<rect x="1011" y="151" width="5" height="9" fill="#32cd32"/>
<rect x="1021" y="144" width="1" height="33" fill="#32cd32"/>
<rect x="1019" y="159" width="5" height="4" fill="#32cd32"/>
<rect x="1029" y="176" width="1" height="38" fill="#32cd32"/>
<rect x="1027" y="199" width="5" height="14" fill="#32cd32"/>
<rect x="1037" y="200" width="1" height="24" fill="#32cd32"/>
<rect x="1035" y="213" width="5" height="8" fill="#32cd32"/>
<rect x="1045" y="198" width="1" height="26" fill="#ff4500"/>
<rect x="1043" y="203" width="5" height="9" fill="#ff4500"/>
<rect x="1053" y="192" width="1" height="21" fill="#ff4500"/>
<rect x="1051" y="199" width="5" height="5" fill="#ff4500"/>
<rect x="1061" y="170" width="1" height="18" fill="#ff4500"/>
<rect x="1059" y="172" width="5" height="15" fill="#ff4500"/>
<rect x="1069" y="163" width="1" height="37" fill="#32cd32"/>
<rect x="1067" y="172" width="5" height="17" fill="#32cd32"/>
<rect x="1077" y="184" width="1" height="22" fill="#32cd32"/>
<rect x="1075" y="187" width="5" height="11" fill="#32cd32"/>
<rect x="1085" y="184" width="1" height="25" fill="#32cd32"/>
<rect x="1083" y="198" width="5" height="3" fill="#32cd32"/>
<rect x="1093" y="186" width="1" height="17" fill="#32cd32"/>
<rect x="1091" y="200" width="5" height="2" fill="#32cd32"/>
<rect x="1101" y="196" width="1" height="14" fill="#32cd32"/>
<rect x="1099" y="201" width="5" height="6" fill="#32cd32"/>
<rect x="1109" y="166" width="1" height="35" fill="#ff4500"/>
<rect x="1107" y="174" width="5" height="27" fill="#ff4500"/>
<rect x="1117" y="173" width="1" height="26" fill="#32cd32"/>
<rect x="1115" y="174" width="5" height="13" fill="#32cd32"/>
<rect x="1125" y="159" width="1" height="32" fill="#ff4500"/>
<rect x="1123" y="159" width="5" height="25" fill="#ff4500"/>
<rect x="1133" y="136" width="1" height="32" fill="#ff4500"/>
<rect x="1131" y="138" width="5" height="22" fill="#ff4500"/>
<rect x="1141" y="134" width="1" height="18" fill="#32cd32"/>
<rect x="1139" y="137" width="5" height="11" fill="#32cd32"/>
<rect x="1149" y="144" width="1" height="14" fill="#32cd32"/>
<rect x="1147" y="147" width="5" height="5" fill="#32cd32"/>
<rect x="1157" y="140" width="1" height="28" fill="#32cd32"/>
<rect x="1155" y="155" width="5" height="13" fill="#32cd32"/>
<rect x="1165" y="146" width="1" height="23" fill="#ff4500"/>
<rect x="1163" y="150" width="5" height="18" fill="#ff4500"/>
<rect x="1173" y="140" width="1" height="17" fill="#ff4500"/>
<rect x="1171" y="144" width="5" height="1" fill="#ff4500"/>
<rect x="1181" y="137" width="1" height="19" fill="#32cd32"/>
<rect x="1179" y="144" width="5" height="10" fill="#32cd32"/>
<rect x="1189" y="144" width="1" height="30" fill="#32cd32"/>
<rect x="1187" y="150" width="5" height="17" fill="#32cd32"/>
<rect x="1197" y="146" width="1" height="22" fill="#ff4500"/>
<rect x="1195" y="148" width="5" height="19" fill="#ff4500"/>
<rect x="1205" y="163" width="1" height="23" fill="#32cd32"/>
<rect x="1203" y="172" width="5" height="14" fill="#32cd32"/>
<rect x="1213" y="173" width="1" height="22" fill="#32cd32"/>
<rect x="1211" y="185" width="5" height="7" fill="#32cd32"/>
<rect x="1221" y="179" width="1" height="21" fill="#32cd32"/>
<rect x="1219" y="180" width="5" height="20" fill="#32cd32"/>
<rect x="1229" y="196" width="1" height="18" fill="#32cd32"/>
<rect x="1227" y="199" width="5" height="6" fill="#32cd32"/>
<rect x="1237" y="187" width="1" height="16" fill="#ff4500"/>
<rect x="1235" y="193" width="5" height="7" fill="#ff4500"/>
<rect x="1245" y="188" width="1" height="14" fill="#32cd32"/>
<rect x="1243" y="193" width="5" height="3" fill="#32cd32"/>
<rect x="1253" y="188" width="1" height="19" fill="#ff4500"/>
<rect x="1251" y="192" width="5" height="10" fill="#ff4500"/>
<rect x="1261" y="191" width="1" height="10" fill="#32cd32"/>
<rect x="1259" y="192" width="5" height="7" fill="#32cd32"/>
<rect x="1269" y="140" width="1" height="56" fill="#ff4500"/>
<rect x="1267" y="143" width="5" height="52" fill="#ff4500"/>
<rect x="1277" y="126" width="1" height="23" fill="#ff4500"/>
<rect x="1275" y="135" width="5" height="9" fill="#ff4500"/>
<rect x="1285" y="88" width="1" height="31" fill="#ff4500"/>
<rect x="1283" y="96" width="5" height="23" fill="#ff4500"/>
<rect x="1293" y="88" width="1" height="10" fill="#ff4500"/>
<rect x="1291" y="90" width="5" height="7" fill="#ff4500"/>
<rect x="1301" y="83" width="1" height="15" fill="#32cd32"/>
<rect x="1299" y="83" width="5" height="7" fill="#32cd32"/>
<rect x="1309" y="88" width="1" height="13" fill="#32cd32"/>
<rect x="1307" y="89" width="5" height="6" fill="#32cd32"/>
<rect x="1317" y="84" width="1" height="20" fill="#ff4500"/>
<rect x="1315" y="87" width="5" height="17" fill="#ff4500"/>
<rect x="1325" y="63" width="1" height="27" fill="#ff4500"/>
<rect x="1323" y="69" width="5" height="19" fill="#ff4500"/>
</g>
<g shape-rendering="crispEdges">
<rect x="13" y="580" width="1" height="4" fill="#c0c0c0"/>
<rect x="21" y="580" width="1" height="3" fill="#c0c0c0"/>
<rect x="45" y="578" width="1" height="3" fill="#c0c0c0"/>
<rect x="53" y="577" width="1" height="4" fill="#c0c0c0"/>
<rect x="61" y="576" width="1" height="5" fill="#c0c0c0"/>
<rect x="69" y="578" width="1" height="3" fill="#c0c0c0"/>
<rect x="85" y="580" width="1" height="3" fill="#c0c0c0"/>
<rect x="101" y="580" width="1" height="3" fill="#c0c0c0"/>
<rect x="109" y="580" width="1" height="3" fill="#c0c0c0"/>
<rect x="117" y="580" width="1" height="4" fill="#c0c0c0"/>
<rect x="125" y="580" width="1" height="5" fill="#c0c0c0"/>
<rect x="133" y="580" width="1" height="5" fill="#c0c0c0"/>
<rect x="141" y="580" width="1" height="5" fill="#c0c0c0"/>
<rect x="149" y="580" width="1" height="3" fill="#c0c0c0"/>
<rect x="157" y="580" width="1" height="2" fill="#c0c0c0"/>
<rect x="165" y="580" width="1" height="2" fill="#c0c0c0"/>
<rect x="173" y="580" width="1" height="2" fill="#c0c0c0"/>
<rect x="181" y="580" width="1" height="3" fill="#c0c0c0"/>
<rect x="189" y="580" width="1" height="4" fill="#c0c0c0"/>
<rect x="197" y="580" width="1" height="5" fill="#c0c0c0"/>
<rect x="205" y="580" width="1" height="5" fill="#c0c0c0"/>
<rect x="213" y="580" width="1" height="6" fill="#c0c0c0"/>
<rect x="221" y="580" width="1" height="8" fill="#c0c0c0"/>
<rect x="229" y="580" width="1" height="9" fill="#c0c0c0"/>
<rect x="237" y="580" width="1" height="11" fill="#c0c0c0"/>
<rect x="245" y="580" width="1" height="12" fill="#c0c0c0"/>
<rect x="253" y="580" width="1" height="13" fill="#c0c0c0"/>
<rect x="261" y="580" width="1" height="15" fill="#c0c0c0"/>
<rect x="269" y="580" width="1" height="15" fill="#c0c0c0"/>
<rect x="277" y="580" width="1" height="17" fill="#c0c0c0"/>
<rect x="285" y="580" width="1" height="18" fill="#c0c0c0"/>
<rect x="293" y="580" width="1" height="18" fill="#c0c0c0"/>
<rect x="301" y="580" width="1" height="18" fill="#c0c0c0"/>
<rect x="309" y="580" width="1" height="17" fill="#c0c0c0"/>
<rect x="317" y="580" width="1" height="17" fill="#c0c0c0"/>
<rect x="325" y="580" width="1" height="17" fill="#c0c0c0"/>
<rect x="333" y="580" width="1" height="17" fill="#c0c0c0"/>
<rect x="341" y="580" width="1" height="17" fill="#c0c0c0"/>
<rect x="349" y="580" width="1" height="16" fill="#c0c0c0"/>
<rect x="357" y="580" width="1" height="15" fill="#c0c0c0"/>
<rect x="365" y="580" width="1" height="16" fill="#c0c0c0"/>
<rect x="373" y="580" width="1" height="15" fill="#c0c0c0"/>
<rect x="381" y="580" width="1" height="15" fill="#c0c0c0"/>
<rect x="389" y="580" width="1" height="14" fill="#c0c0c0"/>
<rect x="397" y="580" width="1" height="12" fill="#c0c0c0"/>
<rect x="405" y="580" width="1" height="10" fill="#c0c0c0"/>
<rect x="413" y="580" width="1" height="7" fill="#c0c0c0"/>
<rect x="421" y="580" width="1" height="7" fill="#c0c0c0"/>
<rect x="429" y="580" width="1" height="5" fill="#c0c0c0"/>
<rect x="437" y="580" width="1" height="3" fill="#c0c0c0"/>
<rect x="445" y="580" width="1" height="2" fill="#c0c0c0"/>
<rect x="469" y="579" width="1" height="2" fill="#c0c0c0"/>
<rect x="477" y="578" width="1" height="3" fill="#c0c0c0"/>
<rect x="485" y="578" width="1" height="3" fill="#c0c0c0"/>
<rect x="493" y="578" width="1" height="3" fill="#c0c0c0"/>
<rect x="501" y="578" width="1" height="3" fill="#c0c0c0"/>
<rect x="509" y="577" width="1" height="4" fill="#c0c0c0"/>
<rect x="517" y="576" width="1" height="5" fill="#c0c0c0"/>
<rect x="525" y="575" width="1" height="6" fill="#c0c0c0"/>
<rect x="533" y="574" width="1" height="7" fill="#c0c0c0"/>
<rect x="541" y="574" width="1" height="7" fill="#c0c0c0"/>
<rect x="549" y="573" width="1" height="8" fill="#c0c0c0"/>
<rect x="557" y="572" width="1" height="9" fill="#c0c0c0"/>
<rect x="565" y="571" width="1" height="10" fill="#c0c0c0"/>
<rect x="573" y="571" width="1" height="10" fill="#c0c0c0"/>
<rect x="581" y="571" width="1" height="10" fill="#c0c0c0"/>
<rect x="589" y="571" width="1" height="10" fill="#c0c0c0"/>
<rect x="597" y="572" width="1" height="9" fill="#c0c0c0"/>
<rect x="605" y="573" width="1" height="8" fill="#c0c0c0"/>
<rect x="613" y="573" width="1" height="8" fill="#c0c0c0"/>
<rect x="621" y="573" width="1" height="8" fill="#c0c0c0"/>
<rect x="629" y="573" width="1" height="8" fill="#c0c0c0"/>
<rect x="637" y="572" width="1" height="9" fill="#c0c0c0"/>
<rect x="645" y="571" width="1" height="10" fill="#c0c0c0"/>
<rect x="653" y="572" width="1" height="9" fill="#c0c0c0"/>
<rect x="661" y="572" width="1" height="9" fill="#c0c0c0"/>
<rect x="669" y="572" width="1" height="9" fill="#c0c0c0"/>
<rect x="677" y="572" width="1" height="9" fill="#c0c0c0"/>
<rect x="685" y="573" width="1" height="8" fill="#c0c0c0"/>
<rect x="693" y="573" width="1" height="8" fill="#c0c0c0"/>
<rect x="701" y="573" width="1" height="8" fill="#c0c0c0"/>
<rect x="709" y="573" width="1" height="8" fill="#c0c0c0"/>
<rect x="717" y="572" width="1" height="9" fill="#c0c0c0"/>
<rect x="725" y="570" width="1" height="11" fill="#c0c0c0"/>
<rect x="733" y="569" width="1" height="12" fill="#c0c0c0"/>
<rect x="741" y="567" width="1" height="14" fill="#c0c0c0"/>
<rect x="749" y="566" width="1" height="15" fill="#c0c0c0"/>
<rect x="757" y="564" width="1" height="17" fill="#c0c0c0"/>
<rect x="765" y="562" width="1" height="19" fill="#c0c0c0"/>
<rect x="773" y="561" width="1" height="20" fill="#c0c0c0"/>
<rect x="781" y="559" width="1" height="22" fill="#c0c0c0"/>
<rect x="789" y="559" width="1" height="22" fill="#c0c0c0"/>
<rect x="797" y="560" width="1" height="21" fill="#c0c0c0"/>
<rect x="805" y="560" width="1" height="21" fill="#c0c0c0"/>
<rect x="813" y="559" width="1" height="22" fill="#c0c0c0"/>
<rect x="821" y="558" width="1" height="23" fill="#c0c0c0"/>
<rect x="829" y="558" width="1" height="23" fill="#c0c0c0"/>
<rect x="837" y="558" width="1" height="23" fill="#c0c0c0"/>
<rect x="845" y="559" width="1" height="22" fill="#c0c0c0"/>
<rect x="853" y="558" width="1" height="23" fill="#c0c0c0"/>
<rect x="861" y="558" width="1" height="23" fill="#c0c0c0"/>
<rect x="869" y="560" width="1" height="21" fill="#c0c0c0"/>
<rect x="877" y="558" width="1" height="23" fill="#c0c0c0"/>
<rect x="885" y="556" width="1" height="25" fill="#c0c0c0"/>
<rect x="893" y="550" width="1" height="31" fill="#c0c0c0"/>
<rect x="901" y="546" width="1" height="35" fill="#c0c0c0"/>
<rect x="909" y="544" width="1" height="37" fill="#c0c0c0"/>
<rect x="917" y="543" width="1" height="38" fill="#c0c0c0"/>
<rect x="925" y="544" width="1" height="37" fill="#c0c0c0"/>
<rect x="933" y="544" width="1" height="37" fill="#c0c0c0"/>
<rect x="941" y="545" width="1" height="36" fill="#c0c0c0"/>
<rect x="949" y="545" width="1" height="36" fill="#c0c0c0"/>
<rect x="957" y="546" width="1" height="35" fill="#c0c0c0"/>
<rect x="965" y="544" width="1" height="37" fill="#c0c0c0"/>
<rect x="973" y="543" width="1" height="38" fill="#c0c0c0"/>
<rect x="981" y="543" width="1" height="38" fill="#c0c0c0"/>
<rect x="989" y="543" width="1" height="38" fill="#c0c0c0"/>
<rect x="997" y="544" width="1" height="37" fill="#c0c0c0"/>
<rect x="1005" y="545" width="1" height="36" fill="#c0c0c0"/>
<rect x="1013" y="546" width="1" height="35" fill="#c0c0c0"/>
<rect x="1021" y="547" width="1" height="34" fill="#c0c0c0"/>
<rect x="1029" y="552" width="1" height="29" fill="#c0c0c0"/>
<rect x="1037" y="556" width="1" height="25" fill="#c0c0c0"/>
<rect x="1045" y="559" width="1" height="22" fill="#c0c0c0"/>
<rect x="1053" y="562" width="1" height="19" fill="#c0c0c0"/>
<rect x="1061" y="562" width="1" height="19" fill="#c0c0c0"/>
<rect x="1069" y="563" width="1" height="18" fill="#c0c0c0"/>
<rect x="1077" y="565" width="1" height="16" fill="#c0c0c0"/>
<rect x="1085" y="567" width="1" height="14" fill="#c0c0c0"/>
<rect x="1093" y="568" width="1" height="13" fill="#c0c0c0"/>
<rect x="1101" y="570" width="1" height="11" fill="#c0c0c0"/>
<rect x="1109" y="570" width="1" height="11" fill="#c0c0c0"/>
<rect x="1117" y="571" width="1" height="10" fill="#c0c0c0"/>
<rect x="1125" y="570" width="1" height="11" fill="#c0c0c0"/>
<rect x="1133" y="568" width="1" height="13" fill="#c0c0c0"/>
<rect x="1141" y="567" width="1" height="14" fill="#c0c0c0"/>
<rect x="1149" y="566" width="1" height="15" fill="#c0c0c0"/>
<rect x="1157" y="567" width="1" height="14" fill="#c0c0c0"/>
<rect x="1165" y="567" width="1" height="14" fill="#c0c0c0"/>
<rect x="1173" y="567" width="1" height="14" fill="#c0c0c0"/>
<rect x="1181" y="567" width="1" height="14" fill="#c0c0c0"/>
<rect x="1189" y="568" width="1" height="13" fill="#c0c0c0"/>
<rect x="1197" y="568" width="1" height="13" fill="#c0c0c0"/>
<rect x="1205" y="570" width="1" height="11" fill="#c0c0c0"/>
<rect x="1213" y="573" width="1" height="8" fill="#c0c0c0"/>
<rect x="1221" y="575" width="1" height="6" fill="#c0c0c0"/>
<rect x="1229" y="578" width="1" height="3" fill="#c0c0c0"/>
<rect x="1237" y="579" width="1" height="2" fill="#c0c0c0"/>
<rect x="1245" y="579" width="1" height="2" fill="#c0c0c0"/>
<rect x="1261" y="579" width="1" height="2" fill="#c0c0c0"/>
<rect x="1269" y="579" width="1" height="2" fill="#c0c0c0"/>
<rect x="1277" y="577" width="1" height="4" fill="#c0c0c0"/>
<rect x="1285" y="573" width="1" height="8" fill="#c0c0c0"/>
<rect x="1293" y="569" width="1" height="12" fill="#c0c0c0"/>
<rect x="1301" y="566" width="1" height="15" fill="#c0c0c0"/>
<rect x="1309" y="564" width="1" height="17" fill="#c0c0c0"/>
<rect x="1317" y="562" width="1" height="19" fill="#c0c0c0"/>
<rect x="1325" y="560" width="1" height="21" fill="#c0c0c0"/>
</g>
<path d="M973 543h3v1h-3zM979 543h3v1h-3zM985 543h3v1h-3zM991 543h3v1h-3zM955 544h3v1h-3zM961 544h3v1h-3zM967 544h3v1h-3zM997 544h3v1h-3zM1003 544h3v1h-3zM1009 544h3v1h-3zM1015 544h3v1h-3zM1021 544h3v1h-3zM1027 544h3v1h-3zM950 545h2v1h-2zM1033 545h3v1h-3zM1039 545h1v1h-1zM949 546h1v1h-1zM1040 546h2v1h-2zM1045 546h1v1h-1zM943 547h3v1h-3zM1046 547h2v1h-2zM937 548h3v1h-3zM1051 548h2v1h-2zM932 549h2v1h-2zM1053 549h1v1h-1zM927 550h1v1h-1zM931 550h1v1h-1zM1057 550h3v1h-3zM925 551h2v1h-2zM1063 551h1v1h-1zM919 552h3v1h-3zM1064 552h2v1h-2zM913 553h3v1h-3zM1069 553h2v1h-2zM907 554h3v1h-3zM1071 554h1v1h-1zM901 555h3v1h-3zM1075 555h3v1h-3zM895 556h3v1h-3zM1081 556h1v1h-1zM889 557h3v1h-3zM1082 557h2v1h-2zM829 558h3v1h-3zM835 558h3v1h-3zM841 558h3v1h-3zM847 558h3v1h-3zM853 558h3v1h-3zM859 558h3v1h-3zM865 558h3v1h-3zM871 558h3v1h-3zM877 558h3v1h-3zM883 558h3v1h-3zM1087 558h2v1h-2zM818 559h2v1h-2zM823 559h3v1h-3zM1089 559h1v1h-1zM811 560h3v1h-3zM817 560h1v1h-1zM1093 560h3v1h-3zM801 561h1v1h-1zM805 561h3v1h-3zM794 562h2v1h-2zM799 562h2v1h-2zM1099 562h3v1h-3zM787 563h3v1h-3zM793 563h1v1h-1zM1105 563h2v1h-2zM781 564h3v1h-3zM1107 564h1v1h-1zM775 565h3v1h-3zM1111 565h3v1h-3zM769 566h3v1h-3zM1117 566h3v1h-3zM1123 566h3v1h-3zM1129 566h3v1h-3zM1189 566h3v1h-3zM1195 566h3v1h-3zM1201 566h3v1h-3zM1207 566h3v1h-3zM1213 566h2v1h-2zM763 567h3v1h-3zM1135 567h3v1h-3zM1141 567h3v1h-3zM1147 567h3v1h-3zM1153 567h3v1h-3zM1159 567h3v1h-3zM1165 567h3v1h-3zM1171 567h3v1h-3zM1177 567h3v1h-3zM1183 567h3v1h-3zM1215 567h1v1h-1zM1219 567h3v1h-3zM757 568h3v1h-3zM1225 568h3v1h-3zM753 569h1v1h-1zM741 570h1v1h-1zM745 570h3v1h-3zM751 570h2v1h-2zM1231 570h3v1h-3zM1323 570h1v1h-1zM591 571h1v1h-1zM595 571h3v1h-3zM601 571h3v1h-3zM607 571h3v1h-3zM613 571h3v1h-3zM619 571h3v1h-3zM625 571h3v1h-3zM631 571h3v1h-3zM637 571h3v1h-3zM643 571h3v1h-3zM649 571h3v1h-3zM655 571h3v1h-3zM661 571h3v1h-3zM667 571h3v1h-3zM673 571h3v1h-3zM679 571h3v1h-3zM685 571h3v1h-3zM691 571h3v1h-3zM697 571h3v1h-3zM703 571h3v1h-3zM709 571h3v1h-3zM715 571h3v1h-3zM721 571h3v1h-3zM727 571h3v1h-3zM733 571h3v1h-3zM739 571h2v1h-2zM1237 571h3v1h-3zM1321 571h2v1h-2zM577 572h3v1h-3zM583 572h3v1h-3zM589 572h2v1h-2zM1243 572h3v1h-3zM1249 572h1v1h-1zM1315 572h3v1h-3zM565 573h3v1h-3zM571 573h3v1h-3zM1250 573h2v1h-2zM1255 573h1v1h-1zM1309 573h3v1h-3zM553 574h3v1h-3zM559 574h3v1h-3zM1256 574h2v1h-2zM1261 574h1v1h-1zM1303 574h3v1h-3zM541 575h3v1h-3zM547 575h3v1h-3zM1262 575h2v1h-2zM1298 575h2v1h-2zM529 576h3v1h-3zM535 576h3v1h-3zM1267 576h2v1h-2zM1297 576h1v1h-1zM517 577h3v1h-3zM523 577h3v1h-3zM1269 577h1v1h-1zM1273 577h3v1h-3zM1279 577h3v1h-3zM1285 577h3v1h-3zM1291 577h3v1h-3zM85 578h3v1h-3zM91 578h3v1h-3zM97 578h3v1h-3zM103 578h3v1h-3zM109 578h3v1h-3zM115 578h3v1h-3zM507 578h1v1h-1zM511 578h3v1h-3zM79 579h3v1h-3zM121 579h2v1h-2zM499 579h3v1h-3zM505 579h2v1h-2zM67 580h3v1h-3zM73 580h3v1h-3zM123 580h1v1h-1zM127 580h3v1h-3zM493 580h3v1h-3zM56 581h2v1h-2zM61 581h3v1h-3zM133 581h3v1h-3zM139 581h2v1h-2zM483 581h1v1h-1zM487 581h3v1h-3zM49 582h3v1h-3zM55 582h1v1h-1zM141 582h1v1h-1zM145 582h3v1h-3zM151 582h3v1h-3zM157 582h3v1h-3zM163 582h3v1h-3zM169 582h3v1h-3zM175 582h3v1h-3zM181 582h3v1h-3zM187 582h3v1h-3zM193 582h3v1h-3zM199 582h3v1h-3zM205 582h3v1h-3zM211 582h3v1h-3zM217 582h3v1h-3zM475 582h3v1h-3zM481 582h2v1h-2zM43 583h3v1h-3zM223 583h3v1h-3zM463 583h3v1h-3zM469 583h3v1h-3zM37 584h3v1h-3zM229 584h3v1h-3zM235 584h3v1h-3zM458 584h2v1h-2zM25 585h3v1h-3zM31 585h3v1h-3zM241 585h3v1h-3zM453 585h1v1h-1zM457 585h1v1h-1zM13 586h3v1h-3zM19 586h3v1h-3zM247 586h3v1h-3zM451 586h2v1h-2zM253 587h3v1h-3zM445 587h3v1h-3zM259 588h3v1h-3zM441 588h1v1h-1zM265 589h3v1h-3zM271 589h1v1h-1zM433 589h3v1h-3zM439 589h2v1h-2zM272 590h2v1h-2zM277 590h1v1h-1zM427 590h3v1h-3zM278 591h2v1h-2zM283 591h1v1h-1zM417 591h1v1h-1zM421 591h3v1h-3zM284 592h2v1h-2zM289 592h1v1h-1zM409 592h3v1h-3zM415 592h2v1h-2zM290 593h2v1h-2zM295 593h3v1h-3zM403 593h3v1h-3zM301 594h3v1h-3zM379 594h3v1h-3zM385 594h3v1h-3zM391 594h3v1h-3zM397 594h3v1h-3zM307 595h3v1h-3zM313 595h2v1h-2zM355 595h3v1h-3zM361 595h3v1h-3zM367 595h3v1h-3zM373 595h3v1h-3zM315 596h1v1h-1zM319 596h3v1h-3zM325 596h3v1h-3zM331 596h3v1h-3zM337 596h3v1h-3zM343 596h3v1h-3zM349 596h3v1h-3z" fill="#ff0000" shape-rendering="crispEdges"/>
<g shape-rendering="crispEdges"><path d="M14 642.5H1676M14 692.5H1676" stroke="#c0c0c0" stroke-width="1" stroke-dasharray="3 3" fill="none"/></g>
<path d="M892 619h2v1h-2zM891 620h1v1h-1zM894 620h1v1h-1zM889 621h2v1h-2zM895 621h1v1h-1zM888 622h1v1h-1zM895 622h1v1h-1zM886 623h2v1h-2zM896 623h1v1h-1zM885 624h1v1h-1zM897 624h1v1h-1zM884 625h1v1h-1zM897 625h1v1h-1zM764 626h4v1h-4zM883 626h1v1h-1zM898 626h1v1h-1zM761 627h3v1h-3zM768 627h2v1h-2zM779 627h3v1h-3zM882 627h1v1h-1zM899 627h1v1h-1zM759 628h2v1h-2zM770 628h3v1h-3zM775 628h4v1h-4zM782 628h1v1h-1zM881 628h1v1h-1zM899 628h1v1h-1zM757 629h2v1h-2zM773 629h2v1h-2zM783 629h1v1h-1zM880 629h1v1h-1zM900 629h1v1h-1zM965 629h1v1h-1zM755 630h2v1h-2zM783 630h1v1h-1zM879 630h1v1h-1zM901 630h1v1h-1zM964 630h1v1h-1zM966 630h1v1h-1zM753 631h2v1h-2zM784 631h1v1h-1zM878 631h1v1h-1zM901 631h2v1h-2zM963 631h1v1h-1zM966 631h1v1h-1zM740 632h4v1h-4zM752 632h1v1h-1zM785 632h1v1h-1zM877 632h1v1h-1zM903 632h1v1h-1zM961 632h2v1h-2zM967 632h1v1h-1zM737 633h3v1h-3zM744 633h4v1h-4zM750 633h2v1h-2zM785 633h1v1h-1zM876 633h1v1h-1zM904 633h1v1h-1zM960 633h1v1h-1zM967 633h1v1h-1zM735 634h2v1h-2zM748 634h2v1h-2zM786 634h1v1h-1zM876 634h1v1h-1zM905 634h2v1h-2zM959 634h1v1h-1zM968 634h1v1h-1zM731 635h4v1h-4zM787 635h1v1h-1zM814 635h8v1h-8zM875 635h1v1h-1zM907 635h1v1h-1zM958 635h1v1h-1zM968 635h1v1h-1zM725 636h6v1h-6zM787 636h1v1h-1zM811 636h3v1h-3zM822 636h2v1h-2zM851 636h3v1h-3zM874 636h1v1h-1zM908 636h2v1h-2zM957 636h1v1h-1zM969 636h1v1h-1zM724 637h1v1h-1zM788 637h1v1h-1zM809 637h2v1h-2zM824 637h2v1h-2zM847 637h4v1h-4zM854 637h1v1h-1zM873 637h1v1h-1zM910 637h9v1h-9zM955 637h2v1h-2zM970 637h1v1h-1zM722 638h2v1h-2zM789 638h1v1h-1zM806 638h3v1h-3zM826 638h1v1h-1zM840 638h7v1h-7zM855 638h2v1h-2zM873 638h1v1h-1zM919 638h2v1h-2zM954 638h1v1h-1zM970 638h1v1h-1zM720 639h2v1h-2zM789 639h1v1h-1zM805 639h1v1h-1zM827 639h2v1h-2zM832 639h8v1h-8zM857 639h1v1h-1zM872 639h1v1h-1zM921 639h2v1h-2zM953 639h1v1h-1zM971 639h1v1h-1zM718 640h2v1h-2zM790 640h1v1h-1zM804 640h1v1h-1zM829 640h3v1h-3zM858 640h1v1h-1zM871 640h1v1h-1zM923 640h2v1h-2zM951 640h2v1h-2zM971 640h1v1h-1zM1000 640h7v1h-7zM1324 640h2v1h-2zM716 641h2v1h-2zM791 641h1v1h-1zM803 641h1v1h-1zM859 641h1v1h-1zM870 641h1v1h-1zM925 641h14v1h-14zM950 641h1v1h-1zM972 641h1v1h-1zM987 641h13v1h-13zM1007 641h1v1h-1zM1301 641h1v1h-1zM1321 641h3v1h-3zM715 642h1v1h-1zM792 642h1v1h-1zM802 642h1v1h-1zM860 642h1v1h-1zM870 642h1v1h-1zM939 642h11v1h-11zM972 642h1v1h-1zM983 642h4v1h-4zM1008 642h2v1h-2zM1295 642h6v1h-6zM1302 642h2v1h-2zM1318 642h3v1h-3zM713 643h2v1h-2zM793 643h1v1h-1zM801 643h1v1h-1zM861 643h9v1h-9zM973 643h1v1h-1zM976 643h7v1h-7zM1010 643h1v1h-1zM1288 643h7v1h-7zM1304 643h2v1h-2zM1315 643h3v1h-3zM564 644h3v1h-3zM711 644h2v1h-2zM794 644h1v1h-1zM800 644h1v1h-1zM973 644h3v1h-3zM1011 644h2v1h-2zM1285 644h3v1h-3zM1306 644h3v1h-3zM1311 644h4v1h-4zM562 645h2v1h-2zM567 645h3v1h-3zM710 645h1v1h-1zM795 645h1v1h-1zM799 645h1v1h-1zM1013 645h4v1h-4zM1284 645h1v1h-1zM1309 645h2v1h-2zM560 646h2v1h-2zM570 646h3v1h-3zM708 646h2v1h-2zM796 646h1v1h-1zM799 646h1v1h-1zM1017 646h5v1h-5zM1283 646h1v1h-1zM558 647h2v1h-2zM573 647h1v1h-1zM644 647h2v1h-2zM707 647h1v1h-1zM796 647h1v1h-1zM798 647h1v1h-1zM1021 647h1v1h-1zM1282 647h1v1h-1zM532 648h2v1h-2zM556 648h2v1h-2zM574 648h1v1h-1zM642 648h2v1h-2zM646 648h1v1h-1zM706 648h1v1h-1zM797 648h1v1h-1zM1022 648h1v1h-1zM1132 648h3v1h-3zM1281 648h1v1h-1zM437 649h1v1h-1zM530 649h2v1h-2zM534 649h1v1h-1zM554 649h2v1h-2zM575 649h2v1h-2zM629 649h4v1h-4zM640 649h2v1h-2zM647 649h1v1h-1zM705 649h1v1h-1zM1022 649h1v1h-1zM1131 649h1v1h-1zM1135 649h2v1h-2zM1280 649h1v1h-1zM437 650h2v1h-2zM528 650h2v1h-2zM535 650h1v1h-1zM552 650h2v1h-2zM577 650h1v1h-1zM627 650h2v1h-2zM633 650h4v1h-4zM638 650h2v1h-2zM648 650h1v1h-1zM703 650h2v1h-2zM1023 650h1v1h-1zM1129 650h2v1h-2zM1137 650h2v1h-2zM1279 650h1v1h-1zM21 651h1v1h-1zM436 651h1v1h-1zM439 651h1v1h-1zM506 651h7v1h-7zM526 651h2v1h-2zM536 651h1v1h-1zM550 651h2v1h-2zM578 651h1v1h-1zM626 651h1v1h-1zM637 651h1v1h-1zM649 651h1v1h-1zM668 651h10v1h-10zM702 651h1v1h-1zM1023 651h1v1h-1zM1128 651h1v1h-1zM1139 651h2v1h-2zM1278 651h1v1h-1zM21 652h2v1h-2zM435 652h1v1h-1zM439 652h1v1h-1zM502 652h4v1h-4zM513 652h4v1h-4zM519 652h7v1h-7zM536 652h1v1h-1zM548 652h2v1h-2zM579 652h1v1h-1zM625 652h1v1h-1zM650 652h1v1h-1zM665 652h3v1h-3zM678 652h1v1h-1zM696 652h6v1h-6zM1024 652h1v1h-1zM1126 652h2v1h-2zM1141 652h6v1h-6zM1274 652h4v1h-4zM20 653h1v1h-1zM23 653h2v1h-2zM435 653h1v1h-1zM440 653h1v1h-1zM501 653h1v1h-1zM517 653h2v1h-2zM537 653h1v1h-1zM547 653h1v1h-1zM580 653h1v1h-1zM623 653h2v1h-2zM651 653h1v1h-1zM662 653h3v1h-3zM679 653h1v1h-1zM693 653h3v1h-3zM1024 653h1v1h-1zM1125 653h1v1h-1zM1147 653h3v1h-3zM1171 653h4v1h-4zM1270 653h4v1h-4zM20 654h1v1h-1zM25 654h2v1h-2zM48 654h7v1h-7zM434 654h1v1h-1zM441 654h1v1h-1zM500 654h1v1h-1zM538 654h1v1h-1zM546 654h1v1h-1zM581 654h2v1h-2zM622 654h1v1h-1zM652 654h1v1h-1zM656 654h6v1h-6zM680 654h1v1h-1zM692 654h1v1h-1zM1024 654h1v1h-1zM1061 654h1v1h-1zM1124 654h1v1h-1zM1150 654h1v1h-1zM1167 654h4v1h-4zM1175 654h2v1h-2zM1269 654h1v1h-1zM20 655h1v1h-1zM27 655h2v1h-2zM40 655h8v1h-8zM55 655h1v1h-1zM434 655h1v1h-1zM441 655h1v1h-1zM499 655h1v1h-1zM539 655h1v1h-1zM545 655h1v1h-1zM583 655h2v1h-2zM618 655h4v1h-4zM653 655h3v1h-3zM681 655h1v1h-1zM690 655h2v1h-2zM1025 655h1v1h-1zM1060 655h1v1h-1zM1062 655h2v1h-2zM1122 655h2v1h-2zM1151 655h2v1h-2zM1164 655h3v1h-3zM1177 655h2v1h-2zM1269 655h1v1h-1zM19 656h1v1h-1zM29 656h11v1h-11zM56 656h2v1h-2zM149 656h2v1h-2zM433 656h1v1h-1zM442 656h1v1h-1zM453 656h1v1h-1zM476 656h2v1h-2zM499 656h1v1h-1zM540 656h1v1h-1zM543 656h2v1h-2zM585 656h2v1h-2zM613 656h5v1h-5zM682 656h1v1h-1zM689 656h1v1h-1zM1025 656h1v1h-1zM1059 656h1v1h-1zM1064 656h1v1h-1zM1109 656h2v1h-2zM1121 656h1v1h-1zM1153 656h1v1h-1zM1163 656h1v1h-1zM1179 656h2v1h-2zM1268 656h1v1h-1zM19 657h1v1h-1zM58 657h2v1h-2zM149 657h1v1h-1zM151 657h3v1h-3zM432 657h1v1h-1zM443 657h1v1h-1zM451 657h2v1h-2zM454 657h2v1h-2zM474 657h2v1h-2zM478 657h1v1h-1zM498 657h1v1h-1zM540 657h1v1h-1zM542 657h1v1h-1zM587 657h2v1h-2zM611 657h2v1h-2zM683 657h1v1h-1zM688 657h1v1h-1zM1026 657h1v1h-1zM1057 657h2v1h-2zM1065 657h1v1h-1zM1108 657h1v1h-1zM1111 657h2v1h-2zM1120 657h1v1h-1zM1154 657h1v1h-1zM1161 657h2v1h-2zM1181 657h2v1h-2zM1197 657h1v1h-1zM1268 657h1v1h-1zM18 658h1v1h-1zM60 658h2v1h-2zM148 658h1v1h-1zM154 658h2v1h-2zM432 658h1v1h-1zM443 658h1v1h-1zM449 658h2v1h-2zM456 658h2v1h-2zM472 658h2v1h-2zM479 658h1v1h-1zM497 658h1v1h-1zM541 658h1v1h-1zM589 658h11v1h-11zM610 658h1v1h-1zM683 658h1v1h-1zM687 658h1v1h-1zM1026 658h1v1h-1zM1056 658h1v1h-1zM1066 658h2v1h-2zM1107 658h1v1h-1zM1113 658h2v1h-2zM1119 658h1v1h-1zM1155 658h1v1h-1zM1160 658h1v1h-1zM1183 658h1v1h-1zM1195 658h2v1h-2zM1198 658h1v1h-1zM1267 658h1v1h-1zM18 659h1v1h-1zM62 659h1v1h-1zM148 659h1v1h-1zM156 659h2v1h-2zM431 659h1v1h-1zM444 659h1v1h-1zM448 659h1v1h-1zM458 659h1v1h-1zM470 659h2v1h-2zM480 659h1v1h-1zM497 659h1v1h-1zM600 659h2v1h-2zM608 659h2v1h-2zM684 659h1v1h-1zM686 659h1v1h-1zM1027 659h1v1h-1zM1055 659h1v1h-1zM1068 659h1v1h-1zM1107 659h1v1h-1zM1115 659h2v1h-2zM1118 659h1v1h-1zM1156 659h1v1h-1zM1158 659h2v1h-2zM1184 659h2v1h-2zM1193 659h2v1h-2zM1199 659h1v1h-1zM1267 659h1v1h-1zM17 660h1v1h-1zM62 660h1v1h-1zM147 660h1v1h-1zM158 660h1v1h-1zM431 660h1v1h-1zM445 660h3v1h-3zM459 660h2v1h-2zM464 660h6v1h-6zM481 660h1v1h-1zM496 660h1v1h-1zM602 660h2v1h-2zM606 660h2v1h-2zM685 660h1v1h-1zM1027 660h1v1h-1zM1054 660h1v1h-1zM1069 660h2v1h-2zM1106 660h1v1h-1zM1117 660h1v1h-1zM1157 660h1v1h-1zM1186 660h1v1h-1zM1192 660h1v1h-1zM1199 660h1v1h-1zM1266 660h1v1h-1zM17 661h1v1h-1zM63 661h1v1h-1zM147 661h1v1h-1zM159 661h1v1h-1zM430 661h1v1h-1zM445 661h1v1h-1zM461 661h3v1h-3zM482 661h1v1h-1zM495 661h1v1h-1zM604 661h2v1h-2zM1028 661h1v1h-1zM1049 661h5v1h-5zM1071 661h3v1h-3zM1105 661h1v1h-1zM1187 661h2v1h-2zM1190 661h2v1h-2zM1200 661h1v1h-1zM1266 661h1v1h-1zM17 662h1v1h-1zM64 662h1v1h-1zM146 662h1v1h-1zM160 662h1v1h-1zM430 662h1v1h-1zM483 662h1v1h-1zM494 662h1v1h-1zM1028 662h1v1h-1zM1045 662h4v1h-4zM1074 662h3v1h-3zM1104 662h1v1h-1zM1189 662h1v1h-1zM1201 662h1v1h-1zM1265 662h1v1h-1zM16 663h1v1h-1zM64 663h1v1h-1zM146 663h1v1h-1zM161 663h1v1h-1zM415 663h15v1h-15zM484 663h1v1h-1zM494 663h1v1h-1zM1028 663h1v1h-1zM1043 663h2v1h-2zM1077 663h6v1h-6zM1103 663h1v1h-1zM1201 663h1v1h-1zM1265 663h1v1h-1zM16 664h1v1h-1zM65 664h1v1h-1zM145 664h1v1h-1zM162 664h1v1h-1zM408 664h7v1h-7zM485 664h9v1h-9zM1029 664h1v1h-1zM1041 664h2v1h-2zM1083 664h13v1h-13zM1103 664h1v1h-1zM1202 664h1v1h-1zM1265 664h1v1h-1zM15 665h1v1h-1zM66 665h1v1h-1zM145 665h1v1h-1zM163 665h1v1h-1zM400 665h8v1h-8zM1029 665h3v1h-3zM1040 665h1v1h-1zM1096 665h4v1h-4zM1102 665h1v1h-1zM1203 665h1v1h-1zM1264 665h1v1h-1zM15 666h1v1h-1zM67 666h1v1h-1zM144 666h1v1h-1zM164 666h1v1h-1zM395 666h5v1h-5zM1032 666h5v1h-5zM1038 666h2v1h-2zM1100 666h2v1h-2zM1203 666h1v1h-1zM1264 666h1v1h-1zM14 667h1v1h-1zM67 667h1v1h-1zM144 667h1v1h-1zM165 667h2v1h-2zM391 667h4v1h-4zM1037 667h1v1h-1zM1204 667h1v1h-1zM1263 667h1v1h-1zM14 668h1v1h-1zM68 668h1v1h-1zM143 668h1v1h-1zM167 668h2v1h-2zM389 668h2v1h-2zM1205 668h1v1h-1zM1263 668h1v1h-1zM14 669h1v1h-1zM69 669h1v1h-1zM143 669h1v1h-1zM169 669h1v1h-1zM389 669h1v1h-1zM1205 669h4v1h-4zM1262 669h1v1h-1zM13 670h1v1h-1zM69 670h6v1h-6zM142 670h1v1h-1zM170 670h2v1h-2zM388 670h1v1h-1zM1209 670h4v1h-4zM1248 670h9v1h-9zM1262 670h1v1h-1zM75 671h13v1h-13zM142 671h1v1h-1zM172 671h1v1h-1zM388 671h1v1h-1zM1213 671h4v1h-4zM1236 671h12v1h-12zM1257 671h3v1h-3zM1262 671h1v1h-1zM88 672h5v1h-5zM138 672h4v1h-4zM173 672h6v1h-6zM184 672h6v1h-6zM388 672h1v1h-1zM1217 672h4v1h-4zM1234 672h2v1h-2zM1260 672h2v1h-2zM93 673h2v1h-2zM134 673h4v1h-4zM179 673h5v1h-5zM190 673h1v1h-1zM387 673h1v1h-1zM1221 673h4v1h-4zM1232 673h2v1h-2zM95 674h2v1h-2zM124 674h10v1h-10zM191 674h1v1h-1zM387 674h1v1h-1zM1225 674h4v1h-4zM1230 674h2v1h-2zM97 675h1v1h-1zM121 675h3v1h-3zM192 675h1v1h-1zM386 675h1v1h-1zM1229 675h1v1h-1zM98 676h2v1h-2zM118 676h3v1h-3zM193 676h1v1h-1zM386 676h1v1h-1zM100 677h1v1h-1zM113 677h5v1h-5zM194 677h1v1h-1zM386 677h1v1h-1zM101 678h12v1h-12zM195 678h1v1h-1zM385 678h1v1h-1zM195 679h1v1h-1zM385 679h1v1h-1zM196 680h1v1h-1zM201 680h13v1h-13zM385 680h1v1h-1zM197 681h4v1h-4zM214 681h2v1h-2zM309 681h2v1h-2zM384 681h1v1h-1zM216 682h1v1h-1zM307 682h2v1h-2zM311 682h2v1h-2zM384 682h1v1h-1zM217 683h1v1h-1zM305 683h2v1h-2zM313 683h2v1h-2zM322 683h10v1h-10zM384 683h1v1h-1zM218 684h1v1h-1zM285 684h3v1h-3zM304 684h1v1h-1zM315 684h2v1h-2zM318 684h4v1h-4zM332 684h19v1h-19zM383 684h1v1h-1zM219 685h2v1h-2zM285 685h1v1h-1zM288 685h4v1h-4zM302 685h2v1h-2zM317 685h1v1h-1zM351 685h1v1h-1zM383 685h1v1h-1zM221 686h1v1h-1zM284 686h1v1h-1zM292 686h10v1h-10zM352 686h2v1h-2zM382 686h1v1h-1zM222 687h2v1h-2zM284 687h1v1h-1zM354 687h2v1h-2zM382 687h1v1h-1zM224 688h2v1h-2zM235 688h4v1h-4zM283 688h1v1h-1zM356 688h1v1h-1zM382 688h1v1h-1zM226 689h2v1h-2zM232 689h3v1h-3zM239 689h1v1h-1zM283 689h1v1h-1zM357 689h6v1h-6zM368 689h11v1h-11zM381 689h1v1h-1zM228 690h1v1h-1zM230 690h2v1h-2zM240 690h1v1h-1zM282 690h1v1h-1zM363 690h5v1h-5zM379 690h3v1h-3zM229 691h1v1h-1zM241 691h1v1h-1zM263 691h7v1h-7zM282 691h1v1h-1zM242 692h2v1h-2zM256 692h7v1h-7zM270 692h1v1h-1zM281 692h1v1h-1zM244 693h1v1h-1zM250 693h6v1h-6zM271 693h1v1h-1zM281 693h1v1h-1zM245 694h5v1h-5zM272 694h1v1h-1zM280 694h1v1h-1zM273 695h1v1h-1zM280 695h1v1h-1zM273 696h1v1h-1zM279 696h1v1h-1zM274 697h1v1h-1zM279 697h1v1h-1zM275 698h1v1h-1zM278 698h1v1h-1zM276 699h1v1h-1zM278 699h1v1h-1zM277 700h1v1h-1zM277 701h1v1h-1z" fill="#1e90ff" shape-rendering="crispEdges"/>
<g shape-rendering="crispEdges">
<rect x="14" y="59" width="287" height="80" fill="#fff"/>
<rect x="14" y="163" width="0" height="0" fill="none"/>
<rect x="12" y="38" width="1665" height="1" fill="#000"/>
<rect x="12" y="536" width="1665" height="1" fill="#000"/>
<rect x="12" y="38" width="1" height="499" fill="#000"/>
<rect x="1676" y="38" width="1" height="499" fill="#000"/>
<rect x="12" y="538" width="1665" height="1" fill="#000"/>
<rect x="12" y="600" width="1665" height="1" fill="#000"/>
<rect x="12" y="538" width="1" height="63" fill="#000"/>
<rect x="1676" y="538" width="1" height="63" fill="#000"/>
<rect x="12" y="602" width="1665" height="1" fill="#000"/>
<rect x="12" y="731" width="1665" height="1" fill="#000"/>
<rect x="12" y="602" width="1" height="130" fill="#000"/>
<rect x="1676" y="602" width="1" height="130" fill="#000"/>
<rect x="1676" y="45" width="2" height="2" fill="#ff0000"/>
<rect x="1676" y="69" width="2" height="1" fill="#c0c0c0"/>
<rect x="1676" y="112" width="2" height="2" fill="#00ff7f"/>
<rect x="1676" y="163" width="2" height="2" fill="#0000ff"/>
<rect x="1676" y="216" width="2" height="2" fill="#0000ff"/>
<rect x="1677" y="76" width="2" height="1" fill="#000"/>
<rect x="1677" y="125" width="2" height="1" fill="#000"/>
<rect x="1677" y="174" width="2" height="1" fill="#000"/>
<rect x="1677" y="223" width="2" height="1" fill="#000"/>
<rect x="1677" y="272" width="2" height="1" fill="#000"/>
<rect x="1677" y="321" width="2" height="1" fill="#000"/>
<rect x="1677" y="370" width="2" height="1" fill="#000"/>
<rect x="1677" y="419" width="2" height="1" fill="#000"/>
<rect x="1677" y="468" width="2" height="1" fill="#000"/>
<rect x="1677" y="517" width="2" height="1" fill="#000"/>
<rect x="1677" y="580" width="2" height="1" fill="#000"/>
<rect x="1677" y="599" width="2" height="1" fill="#000"/>
<rect x="1677" y="606" width="2" height="1" fill="#000"/>
<rect x="1677" y="642" width="2" height="1" fill="#000"/>
<rect x="1677" y="692" width="2" height="1" fill="#000"/>
<rect x="1677" y="731" width="2" height="1" fill="#000"/>
<rect x="13" y="732" width="1" height="4" fill="#000"/>
<rect x="109" y="732" width="1" height="4" fill="#000"/>
<rect x="205" y="732" width="1" height="4" fill="#000"/>
<rect x="301" y="732" width="1" height="4" fill="#000"/>
<rect x="397" y="732" width="1" height="4" fill="#000"/>
<rect x="493" y="732" width="1" height="4" fill="#000"/>
<rect x="589" y="732" width="1" height="4" fill="#000"/>
<rect x="685" y="732" width="1" height="4" fill="#000"/>
<rect x="781" y="732" width="1" height="4" fill="#000"/>
<rect x="877" y="732" width="1" height="4" fill="#000"/>
<rect x="973" y="732" width="1" height="4" fill="#000"/>
<rect x="1069" y="732" width="1" height="4" fill="#000"/>
<rect x="1165" y="732" width="1" height="4" fill="#000"/>
<rect x="1261" y="732" width="1" height="4" fill="#000"/>
</g>
</svg>
<div class="ax" style="top:70px">4015.0</div>
<div class="ax" style="top:119px">3897.0</div>
<div class="ax" style="top:168px">3779.0</div>
<div class="ax" style="top:217px">3661.0</div>
<div class="ax" style="top:266px">3545.0</div>
<div class="ax" style="top:315px">3427.0</div>
<div class="ax" style="top:364px">3309.0</div>
<div class="ax" style="top:413px">3193.0</div>
<div class="ax" style="top:462px">3075.0</div>
<div class="ax" style="top:511px">2957.0</div>
<div class="ax" style="left:1679.5px;top:540.5px">121.84</div>
<div class="ax" style="left:1679.5px;top:573.5px">0.00</div>
<div class="ax" style="left:1679.5px;top:586.0px">-57.26</div>
<div class="ax" style="left:1680px;top:605.0px">100</div>
<div class="ax" style="left:1680px;top:635.5px">70</div>
<div class="ax" style="left:1680px;top:685.5px">30</div>
<div class="ax" style="left:1680px;top:717.0px">0</div>
<div class="lab" style="top:40px;background:#ff0000">4087.4</div>
<div class="lab" style="top:62px;background:#000">4030.2</div>
<div class="lab" style="top:106px;background:#00ff7f">3926.0</div>
<div class="lab" style="top:157px;background:#0000ff">3803.8</div>
<div class="lab" style="top:210px;background:#0000ff">3676.5</div>
<div class="lab" style="top:528px;background:#ff0000">2917.0</div>
<div class="lab" style="top:521px;background:#008000">2933.8</div>
<div class="t" style="left:11.5px;top:736px;font-size:12.5px">30 Nov 2018</div>
<div class="t" style="left:107.5px;top:736px;font-size:12.5px">10 Dec 05:00</div>
<div class="t" style="left:203.5px;top:736px;font-size:12.5px">18 Dec 05:00</div>
<div class="t" style="left:299.5px;top:736px;font-size:12.5px">26 Dec 05:00</div>
<div class="t" style="left:395.5px;top:736px;font-size:12.5px">4 Jan 05:00</div>
<div class="t" style="left:491.5px;top:736px;font-size:12.5px">14 Jan 05:00</div>
<div class="t" style="left:587.5px;top:736px;font-size:12.5px">22 Jan 05:00</div>
<div class="t" style="left:683.5px;top:736px;font-size:12.5px">30 Jan 05:00</div>
<div class="t" style="left:779.5px;top:736px;font-size:12.5px">14 Feb 05:00</div>
<div class="t" style="left:875.5px;top:736px;font-size:12.5px">22 Feb 05:00</div>
<div class="t" style="left:971.5px;top:736px;font-size:12.5px">4 Mar 05:00</div>
<div class="t" style="left:1067.5px;top:736px;font-size:12.5px">12 Mar 05:00</div>
<div class="t" style="left:1163.5px;top:736px;font-size:12.5px">20 Mar 05:00</div>
<div class="t" style="left:1259.5px;top:736px;font-size:12.5px">28 Mar 05:00</div>
<div class="t" style="left:31px;top:42px;font-size:12.5px;letter-spacing:-0.4px">CHINA300-,H4</div>
<div class="t" style="left:117.5px;top:42px;font-size:12.5px;letter-spacing:0.2px">3987.8 4046.2 3983.8 4030.2</div>
<svg width="30" height="20" style="left:14px;top:40px"><path d="M1.5 11.5 L11.5 11.5 L6.5 6Z" fill="#000"/></svg>
<div class="t" style="left:16.5px;top:542.5px;font-size:12.5px">MACD(12,26,9) 62.76 32.50</div>
<div class="t" style="left:16px;top:606.5px;font-size:12.5px">RSI(14) 71.6261</div>
<div style="position:absolute;left:1161.5px;top:261.5px;font-size:51.200px;line-height:72px;color:#ff2010;transform-origin:0 50%;transform:scaleY(1.06);white-space:pre;font-family:'Liberation Sans','Noto Sans CJK SC',sans-serif;"><span style="font-weight:350">多空转折点</span><span style="position:relative;top:-2.200px;left:-1px">3926</span></div>
<div style="position:absolute;left:16px;top:61px;width:68px;height:28px;background:linear-gradient(#fa5555,#e83c3c);box-sizing:border-box;border:1px solid #c80000;border-bottom:none"></div>
<div style="position:absolute;left:231px;top:61px;width:68px;height:28px;background:linear-gradient(#fa5555,#e83c3c);box-sizing:border-box;border:1px solid #c80000;border-bottom:none"></div>
<div style="position:absolute;left:16px;top:88px;width:141px;height:49px;background:linear-gradient(#e83c3c,#d02424 45%,#b00000);box-sizing:border-box;border:1px solid #c00000;border-top:none"></div>
<div style="position:absolute;left:159px;top:88px;width:140px;height:49px;background:linear-gradient(#e83c3c,#d02424 45%,#b00000);box-sizing:border-box;border:1px solid #c00000;border-top:none"></div>
<div style="position:absolute;left:20px;top:87px;width:60px;height:1px;background:#980000"></div>
<div style="position:absolute;left:20px;top:88px;width:60px;height:1px;background:#f06060"></div>
<div style="position:absolute;left:235px;top:87px;width:60px;height:1px;background:#980000"></div>
<div style="position:absolute;left:235px;top:88px;width:60px;height:1px;background:#f06060"></div>
<div style="position:absolute;left:33px;top:66.5px;font-size:14.5px;line-height:17px;color:#fff;white-space:pre;transform-origin:0 0;transform:scaleX(0.94)">SELL</div>
<div style="position:absolute;left:250px;top:66.5px;font-size:14.5px;line-height:17px;color:#fff;white-space:pre;transform-origin:0 0;transform:scaleX(0.96)">BUY</div>
<div style="position:absolute;left:86px;top:61px;width:143px;height:25px;box-sizing:border-box;border:1px solid #a8acb8;background:#fff"></div>
<div style="position:absolute;left:87px;top:62px;width:23px;height:23px;box-sizing:border-box;border:1px solid #b4b8c0;background:linear-gradient(#ececec,#e0e0e0 48%,#cfcfcf 52%,#d4d4d4)"></div>
<div style="position:absolute;left:205px;top:62px;width:23px;height:23px;box-sizing:border-box;border:1px solid #b4b8c0;background:linear-gradient(#ececec,#e0e0e0 48%,#cfcfcf 52%,#d4d4d4)"></div>
<svg width="300" height="140" style="left:0;top:0"><path d="M94.5 72 L102.5 72 L98.5 76Z" fill="#4858b0"/><path d="M212.5 75 L220.5 75 L216.5 71Z" fill="#5868c0"/></svg>
<div style="position:absolute;left:140px;top:63.5px;width:62px;text-align:right;font-size:16.5px;line-height:19px;color:#000;white-space:pre">1.00</div>
<div style="position:absolute;left:46px;top:111px;font-size:15.5px;line-height:18px;font-weight:bold;color:#fff;white-space:pre;letter-spacing:0.5px">4028</div>
<div style="position:absolute;left:188px;top:111px;font-size:15.5px;line-height:18px;font-weight:bold;color:#fff;white-space:pre;letter-spacing:0.5px">4035</div>
<div style="position:absolute;left:88px;top:121px;width:5px;height:5px;border-radius:2.5px;background:#fff"></div>
<div style="position:absolute;left:230.5px;top:121px;width:5px;height:5px;border-radius:2.5px;background:#fff"></div>
<div style="position:absolute;left:93.5px;top:88.5px;font-size:41.5px;line-height:46px;color:#fff;white-space:pre;transform-origin:0 0;transform:scaleX(1.05)">7</div>
<div style="position:absolute;left:236px;top:88.5px;font-size:41.5px;line-height:46px;color:#fff;white-space:pre;transform-origin:0 0;transform:scaleX(1.05)">1</div>
</div></body></html>
